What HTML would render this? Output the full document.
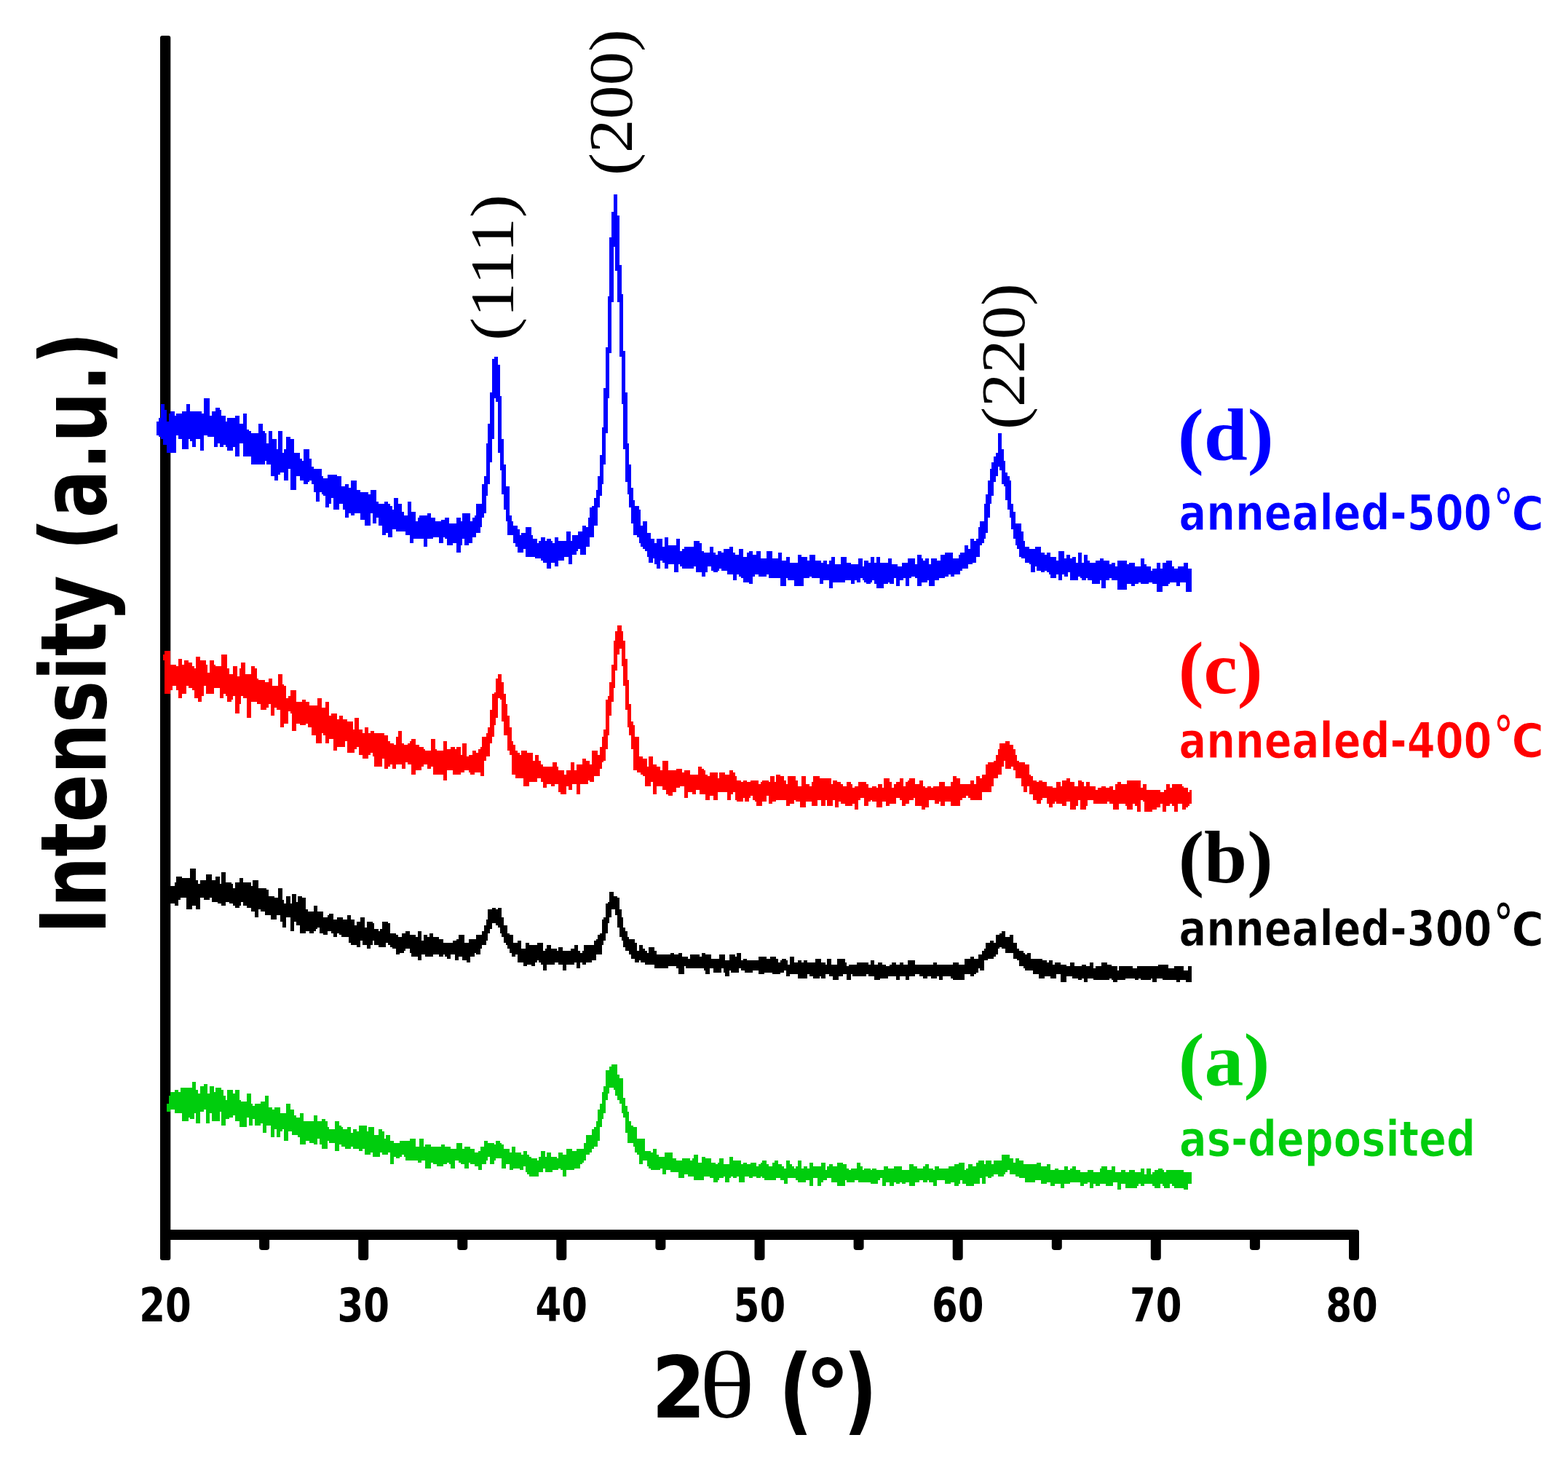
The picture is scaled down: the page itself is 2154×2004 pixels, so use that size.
<!DOCTYPE html>
<html><head><meta charset="utf-8"><title>XRD patterns</title>
<style>
html,body{margin:0;padding:0;background:#fff;width:2154px;height:2004px;overflow:hidden}
svg{display:block}
.tk{font-family:"DejaVu Sans",sans-serif;font-weight:bold;font-size:64px;fill:#000}
.yl{font-family:"DejaVu Sans",sans-serif;font-weight:bold;font-size:124px;fill:#000}
.xl{font-family:"DejaVu Sans",sans-serif;font-weight:bold;font-size:130px;fill:#000}
.xl2{font-family:"DejaVu Sans",sans-serif;font-weight:bold;font-size:118px;fill:#000}
.xth{font-family:"Liberation Serif",serif;font-size:131px;fill:#000}
.hkl{font-family:"Liberation Serif",serif;font-size:85px;fill:#000}
.xdeg{font-family:"DejaVu Sans",sans-serif;font-weight:bold;font-size:129px;fill:#000}
.lab{font-family:"Liberation Serif",serif;font-weight:bold;font-size:101px}
.leg{font-family:"DejaVu Sans",sans-serif;font-weight:bold;font-size:68px;stroke:#fff;stroke-width:1.1px}
</style></head>
<body>
<svg width="2154" height="2004" viewBox="0 0 2154 2004">
<rect width="2154" height="2004" fill="#fff"/>
<g fill="#000"><rect x="220" y="49" width="14.3" height="1682" rx="3"/>
<rect x="220" y="1689" width="1647" height="14" rx="3"/>
<rect x="356.1" y="1692" width="14" height="25.0" rx="4"/>
<rect x="492.2" y="1692" width="14" height="39.0" rx="4"/>
<rect x="628.3" y="1692" width="14" height="25.0" rx="4"/>
<rect x="764.3" y="1692" width="14" height="39.0" rx="4"/>
<rect x="900.4" y="1692" width="14" height="25.0" rx="4"/>
<rect x="1036.5" y="1692" width="14" height="39.0" rx="4"/>
<rect x="1172.6" y="1692" width="14" height="25.0" rx="4"/>
<rect x="1308.7" y="1692" width="14" height="39.0" rx="4"/>
<rect x="1444.8" y="1692" width="14" height="25.0" rx="4"/>
<rect x="1580.8" y="1692" width="14" height="39.0" rx="4"/>
<rect x="1716.9" y="1692" width="14" height="25.0" rx="4"/>
<rect x="1853.0" y="1692" width="14" height="39.0" rx="4"/></g>
<g shape-rendering="crispEdges"><path fill="#00cd0d" d="M228.9 1515.9V1515.9H231.6V1505.1H234.2V1499.7H236.9V1499.7H239.6V1497.0H242.3V1497.0H245.0V1499.7H247.7V1494.3H250.4V1494.3H253.1V1494.3H255.8V1494.3H258.5V1494.3H261.2V1494.3H263.9V1486.3H266.6V1486.3H269.2V1497.0H271.9V1502.4H274.6V1491.6H277.3V1491.6H280.0V1489.0H282.7V1489.0H285.4V1502.4H288.1V1491.6H290.8V1491.6H293.5V1499.7H296.2V1494.3H298.9V1494.3H301.6V1494.3H304.3V1497.0H306.9V1505.1H309.6V1510.5H312.3V1497.0H315.0V1497.0H317.7V1497.0H320.4V1502.4H323.1V1497.0H325.8V1497.0H328.5V1510.5H331.2V1513.2H333.9V1513.2H336.6V1513.2H339.3V1502.4H341.9V1502.4H344.6V1515.9H347.3V1518.6H350.0V1515.9H352.7V1515.9H355.4V1515.9H358.1V1513.2H360.8V1513.2H363.5V1505.1H366.2V1505.1H368.9V1521.3H371.6V1521.3H374.3V1524.0H376.9V1521.3H379.6V1521.3H382.3V1521.3H385.0V1529.3H387.7V1529.3H390.4V1529.3H393.1V1515.9H395.8V1515.9H398.5V1524.0H401.2V1524.0H403.9V1532.0H406.6V1534.7H409.3V1534.7H412.0V1529.3H414.6V1529.3H417.3V1540.1H420.0V1540.1H422.7V1540.1H425.4V1540.1H428.1V1540.1H430.8V1532.0H433.5V1532.0H436.2V1540.1H438.9V1540.1H441.6V1537.4H444.3V1537.4H447.0V1540.1H449.6V1548.2H452.3V1550.9H455.0V1550.9H457.7V1550.9H460.4V1540.1H463.1V1540.1H465.8V1545.5H468.5V1548.2H471.2V1550.9H473.9V1550.9H476.6V1548.2H479.3V1548.2H482.0V1556.3H484.6V1550.9H487.3V1550.9H490.0V1553.6H492.7V1545.5H495.4V1545.5H498.1V1545.5H500.8V1545.5H503.5V1553.6H506.2V1548.2H508.9V1548.2H511.6V1548.2H514.3V1559.0H517.0V1559.0H519.7V1550.9H522.3V1550.9H525.0V1553.6H527.7V1564.3H530.4V1559.0H533.1V1559.0H535.8V1567.0H538.5V1567.0H541.2V1569.7H543.9V1569.7H546.6V1569.7H549.3V1567.0H552.0V1567.0H554.7V1567.0H557.3V1567.0H560.0V1567.0H562.7V1564.3H565.4V1564.3H568.1V1564.3H570.8V1575.1H573.5V1575.1H576.2V1564.3H578.9V1564.3H581.6V1575.1H584.3V1572.4H587.0V1572.4H589.7V1572.4H592.4V1575.1H595.0V1575.1H597.7V1575.1H600.4V1575.1H603.1V1575.1H605.8V1572.4H608.5V1572.4H611.2V1575.1H613.9V1575.1H616.6V1575.1H619.3V1577.8H622.0V1577.8H624.7V1577.8H627.4V1569.7H630.0V1569.7H632.7V1569.7H635.4V1577.8H638.1V1575.1H640.8V1575.1H643.5V1575.1H646.2V1577.8H648.9V1577.8H651.6V1583.2H654.3V1583.2H657.0V1580.5H659.7V1575.1H662.4V1575.1H665.0V1567.0H667.7V1567.0H670.4V1569.7H673.1V1569.7H675.8V1569.7H678.5V1572.4H681.2V1567.0H683.9V1567.0H686.6V1569.7H689.3V1572.4H692.0V1577.8H694.7V1577.8H697.4V1577.8H700.0V1583.2H702.7V1575.1H705.4V1575.1H708.1V1583.2H710.8V1583.2H713.5V1583.2H716.2V1585.9H718.9V1580.5H721.6V1580.5H724.3V1585.9H727.0V1588.6H729.7V1591.3H732.4V1591.3H735.1V1591.3H737.7V1594.0H740.4V1588.6H743.1V1580.5H745.8V1580.5H748.5V1588.6H751.2V1583.2H753.9V1583.2H756.6V1588.6H759.3V1588.6H762.0V1588.6H764.7V1591.3H767.4V1583.2H770.1V1583.2H772.7V1585.9H775.4V1585.9H778.1V1577.8H780.8V1577.8H783.5V1577.8H786.2V1580.5H788.9V1580.5H791.6V1577.8H794.3V1577.8H797.0V1577.8H799.7V1577.8H802.4V1569.7H805.1V1559.0H807.8V1559.0H810.4V1559.0H813.1V1550.9H815.8V1548.2H818.5V1540.1H821.2V1524.0H823.9V1515.9H826.6V1499.7H829.3V1491.6H832.0V1470.1H834.7V1470.1H837.4V1464.7H840.1V1462.0H842.8V1462.0H845.4V1462.0H848.1V1475.5H850.8V1480.9H853.5V1480.9H856.2V1507.8H858.9V1518.6H861.6V1526.6H864.3V1540.1H867.0V1545.5H869.7V1548.2H872.4V1548.2H875.1V1564.3H877.8V1564.3H880.4V1564.3H883.1V1564.3H885.8V1580.5H888.5V1580.5H891.2V1580.5H893.9V1583.2H896.6V1577.8H899.3V1577.8H902.0V1585.9H904.7V1588.6H907.4V1588.6H910.1V1588.6H912.8V1583.2H915.4V1583.2H918.1V1583.2H920.8V1583.2H923.5V1591.3H926.2V1591.3H928.9V1594.0H931.6V1594.0H934.3V1594.0H937.0V1591.3H939.7V1591.3H942.4V1591.3H945.1V1591.3H947.8V1594.0H950.5V1591.3H953.1V1585.9H955.8V1585.9H958.5V1596.7H961.2V1596.7H963.9V1588.6H966.6V1588.6H969.3V1591.3H972.0V1591.3H974.7V1591.3H977.4V1596.7H980.1V1596.7H982.8V1599.3H985.5V1596.7H988.1V1591.3H990.8V1591.3H993.5V1599.3H996.2V1599.3H998.9V1599.3H1001.6V1588.6H1004.3V1588.6H1007.0V1594.0H1009.7V1594.0H1012.4V1594.0H1015.1V1594.0H1017.8V1599.3H1020.5V1596.7H1023.1V1596.7H1025.8V1599.3H1028.5V1599.3H1031.2V1596.7H1033.9V1596.7H1036.6V1596.7H1039.3V1602.0H1042.0V1599.3H1044.7V1596.7H1047.4V1594.0H1050.1V1594.0H1052.8V1599.3H1055.5V1602.0H1058.2V1602.0H1060.8V1596.7H1063.5V1594.0H1066.2V1594.0H1068.9V1599.3H1071.6V1599.3H1074.3V1602.0H1077.0V1604.7H1079.7V1594.0H1082.4V1594.0H1085.1V1599.3H1087.8V1602.0H1090.5V1604.7H1093.2V1602.0H1095.8V1594.0H1098.5V1594.0H1101.2V1604.7H1103.9V1602.0H1106.6V1602.0H1109.3V1604.7H1112.0V1596.7H1114.7V1596.7H1117.4V1602.0H1120.1V1602.0H1122.8V1602.0H1125.5V1602.0H1128.2V1596.7H1130.8V1596.7H1133.5V1607.4H1136.2V1602.0H1138.9V1599.3H1141.6V1599.3H1144.3V1602.0H1147.0V1602.0H1149.7V1596.7H1152.4V1596.7H1155.1V1596.7H1157.8V1599.3H1160.5V1599.3H1163.2V1604.7H1165.9V1607.4H1168.5V1604.7H1171.2V1604.7H1173.9V1604.7H1176.6V1596.7H1179.3V1596.7H1182.0V1602.0H1184.7V1607.4H1187.4V1604.7H1190.1V1604.7H1192.8V1604.7H1195.5V1607.4H1198.2V1604.7H1200.9V1604.7H1203.5V1607.4H1206.2V1607.4H1208.9V1607.4H1211.6V1607.4H1214.3V1602.0H1217.0V1602.0H1219.7V1604.7H1222.4V1604.7H1225.1V1604.7H1227.8V1602.0H1230.5V1602.0H1233.2V1602.0H1235.9V1602.0H1238.5V1607.4H1241.2V1607.4H1243.9V1607.4H1246.6V1607.4H1249.3V1599.3H1252.0V1599.3H1254.7V1602.0H1257.4V1602.0H1260.1V1604.7H1262.8V1604.7H1265.5V1604.7H1268.2V1602.0H1270.9V1599.3H1273.6V1599.3H1276.2V1604.7H1278.9V1604.7H1281.6V1607.4H1284.3V1602.0H1287.0V1602.0H1289.7V1604.7H1292.4V1604.7H1295.1V1604.7H1297.8V1604.7H1300.5V1604.7H1303.2V1602.0H1305.9V1602.0H1308.6V1602.0H1311.2V1599.3H1313.9V1599.3H1316.6V1596.7H1319.3V1596.7H1322.0V1596.7H1324.7V1607.4H1327.4V1604.7H1330.1V1599.3H1332.8V1599.3H1335.5V1602.0H1338.2V1602.0H1340.9V1596.7H1343.6V1594.0H1346.2V1594.0H1348.9V1594.0H1351.6V1599.3H1354.3V1594.0H1357.0V1594.0H1359.7V1594.0H1362.4V1599.3H1365.1V1594.0H1367.8V1594.0H1370.5V1594.0H1373.2V1594.0H1375.9V1585.9H1378.6V1585.9H1381.3V1585.9H1383.9V1585.9H1386.6V1591.3H1389.3V1591.3H1392.0V1596.7H1394.7V1591.3H1397.4V1591.3H1400.1V1594.0H1402.8V1594.0H1405.5V1599.3H1408.2V1599.3H1410.9V1599.3H1413.6V1599.3H1416.3V1599.3H1418.9V1599.3H1421.6V1599.3H1424.3V1596.7H1427.0V1596.7H1429.7V1602.0H1432.4V1602.0H1435.1V1602.0H1437.8V1599.3H1440.5V1599.3H1443.2V1607.4H1445.9V1607.4H1448.6V1604.7H1451.3V1604.7H1454.0V1607.4H1456.6V1607.4H1459.3V1607.4H1462.0V1602.0H1464.7V1602.0H1467.4V1607.4H1470.1V1604.7H1472.8V1602.0H1475.5V1602.0H1478.2V1607.4H1480.9V1607.4H1483.6V1610.1H1486.3V1610.1H1489.0V1610.1H1491.6V1610.1H1494.3V1607.4H1497.0V1607.4H1499.7V1607.4H1502.4V1610.1H1505.1V1610.1H1507.8V1610.1H1510.5V1604.7H1513.2V1602.0H1515.9V1602.0H1518.6V1602.0H1521.3V1607.4H1524.0V1607.4H1526.6V1602.0H1529.3V1602.0H1532.0V1610.1H1534.7V1610.1H1537.4V1610.1H1540.1V1607.4H1542.8V1607.4H1545.5V1610.1H1548.2V1610.1H1550.9V1607.4H1553.6V1607.4H1556.3V1607.4H1559.0V1610.1H1561.6V1610.1H1564.3V1610.1H1567.0V1604.7H1569.7V1604.7H1572.4V1612.8H1575.1V1604.7H1577.8V1604.7H1580.5V1612.8H1583.2V1610.1H1585.9V1607.4H1588.6V1607.4H1591.3V1604.7H1594.0V1604.7H1596.7V1607.4H1599.3V1610.1H1602.0V1607.4H1604.7V1607.4H1607.4V1607.4H1610.1V1607.4H1612.8V1607.4H1615.5V1607.4H1618.2V1607.4H1620.9V1607.4H1623.6V1607.4H1626.3V1610.1H1629.0V1610.1H1631.7V1610.1H1634.3V1610.1H1637.0V1626.3H1634.3V1626.3H1631.7V1634.3H1629.0V1634.3H1626.3V1631.7H1623.6V1631.7H1620.9V1631.7H1618.2V1631.7H1615.5V1631.7H1612.8V1629.0H1610.1V1626.3H1607.4V1631.7H1604.7V1631.7H1602.0V1631.7H1599.3V1629.0H1596.7V1626.3H1594.0V1631.7H1591.3V1631.7H1588.6V1631.7H1585.9V1629.0H1583.2V1626.3H1580.5V1626.3H1577.8V1626.3H1575.1V1626.3H1572.4V1629.0H1569.7V1629.0H1567.0V1626.3H1564.3V1629.0H1561.6V1631.7H1559.0V1631.7H1556.3V1631.7H1553.6V1631.7H1550.9V1631.7H1548.2V1631.7H1545.5V1626.3H1542.8V1626.3H1540.1V1634.3H1537.4V1634.3H1534.7V1623.6H1532.0V1623.6H1529.3V1629.0H1526.6V1629.0H1524.0V1629.0H1521.3V1629.0H1518.6V1626.3H1515.9V1626.3H1513.2V1626.3H1510.5V1629.0H1507.8V1629.0H1505.1V1626.3H1502.4V1631.7H1499.7V1631.7H1497.0V1623.6H1494.3V1626.3H1491.6V1626.3H1489.0V1629.0H1486.3V1629.0H1483.6V1623.6H1480.9V1623.6H1478.2V1623.6H1475.5V1623.6H1472.8V1623.6H1470.1V1626.3H1467.4V1626.3H1464.7V1626.3H1462.0V1631.7H1459.3V1631.7H1456.6V1626.3H1454.0V1626.3H1451.3V1626.3H1448.6V1629.0H1445.9V1629.0H1443.2V1623.6H1440.5V1623.6H1437.8V1626.3H1435.1V1626.3H1432.4V1626.3H1429.7V1620.9H1427.0V1620.9H1424.3V1620.9H1421.6V1623.6H1418.9V1623.6H1416.3V1623.6H1413.6V1623.6H1410.9V1623.6H1408.2V1618.2H1405.5V1618.2H1402.8V1618.2H1400.1V1615.5H1397.4V1615.5H1394.7V1612.8H1392.0V1612.8H1389.3V1612.8H1386.6V1607.4H1383.9V1610.1H1381.3V1612.8H1378.6V1615.5H1375.9V1615.5H1373.2V1615.5H1370.5V1612.8H1367.8V1612.8H1365.1V1615.5H1362.4V1618.2H1359.7V1618.2H1357.0V1615.5H1354.3V1626.3H1351.6V1626.3H1348.9V1618.2H1346.2V1626.3H1343.6V1626.3H1340.9V1626.3H1338.2V1629.0H1335.5V1629.0H1332.8V1629.0H1330.1V1629.0H1327.4V1626.3H1324.7V1626.3H1322.0V1620.9H1319.3V1626.3H1316.6V1629.0H1313.9V1629.0H1311.2V1623.6H1308.6V1623.6H1305.9V1626.3H1303.2V1626.3H1300.5V1626.3H1297.8V1620.9H1295.1V1620.9H1292.4V1620.9H1289.7V1620.9H1287.0V1629.0H1284.3V1629.0H1281.6V1623.6H1278.9V1623.6H1276.2V1620.9H1273.6V1623.6H1270.9V1623.6H1268.2V1620.9H1265.5V1620.9H1262.8V1623.6H1260.1V1623.6H1257.4V1629.0H1254.7V1629.0H1252.0V1629.0H1249.3V1623.6H1246.6V1623.6H1243.9V1626.3H1241.2V1626.3H1238.5V1623.6H1235.9V1626.3H1233.2V1626.3H1230.5V1623.6H1227.8V1629.0H1225.1V1629.0H1222.4V1623.6H1219.7V1623.6H1217.0V1629.0H1214.3V1629.0H1211.6V1618.2H1208.9V1620.9H1206.2V1626.3H1203.5V1626.3H1200.9V1626.3H1198.2V1626.3H1195.5V1623.6H1192.8V1623.6H1190.1V1623.6H1187.4V1623.6H1184.7V1623.6H1182.0V1623.6H1179.3V1620.9H1176.6V1620.9H1173.9V1623.6H1171.2V1623.6H1168.5V1623.6H1165.9V1623.6H1163.2V1620.9H1160.5V1629.0H1157.8V1629.0H1155.1V1629.0H1152.4V1629.0H1149.7V1623.6H1147.0V1623.6H1144.3V1623.6H1141.6V1618.2H1138.9V1618.2H1136.2V1620.9H1133.5V1620.9H1130.8V1623.6H1128.2V1629.0H1125.5V1629.0H1122.8V1618.2H1120.1V1618.2H1117.4V1629.0H1114.7V1629.0H1112.0V1620.9H1109.3V1620.9H1106.6V1623.6H1103.9V1623.6H1101.2V1623.6H1098.5V1623.6H1095.8V1620.9H1093.2V1618.2H1090.5V1618.2H1087.8V1618.2H1085.1V1618.2H1082.4V1626.3H1079.7V1626.3H1077.0V1620.9H1074.3V1620.9H1071.6V1618.2H1068.9V1618.2H1066.2V1620.9H1063.5V1620.9H1060.8V1620.9H1058.2V1620.9H1055.5V1620.9H1052.8V1620.9H1050.1V1618.2H1047.4V1615.5H1044.7V1618.2H1042.0V1618.2H1039.3V1615.5H1036.6V1615.5H1033.9V1618.2H1031.2V1618.2H1028.5V1615.5H1025.8V1615.5H1023.1V1623.6H1020.5V1623.6H1017.8V1623.6H1015.1V1615.5H1012.4V1618.2H1009.7V1618.2H1007.0V1615.5H1004.3V1618.2H1001.6V1623.6H998.9V1623.6H996.2V1615.5H993.5V1618.2H990.8V1618.2H988.1V1620.9H985.5V1623.6H982.8V1623.6H980.1V1618.2H977.4V1618.2H974.7V1615.5H972.0V1615.5H969.3V1615.5H966.6V1620.9H963.9V1620.9H961.2V1620.9H958.5V1620.9H955.8V1620.9H953.1V1615.5H950.5V1615.5H947.8V1615.5H945.1V1612.8H942.4V1612.8H939.7V1618.2H937.0V1618.2H934.3V1618.2H931.6V1610.1H928.9V1610.1H926.2V1610.1H923.5V1610.1H920.8V1607.4H918.1V1607.4H915.4V1612.8H912.8V1612.8H910.1V1604.7H907.4V1607.4H904.7V1607.4H902.0V1607.4H899.3V1607.4H896.6V1607.4H893.9V1604.7H891.2V1602.0H888.5V1594.0H885.8V1594.0H883.1V1599.3H880.4V1599.3H877.8V1585.9H875.1V1583.2H872.4V1575.1H869.7V1569.7H867.0V1569.7H864.3V1569.7H861.6V1556.3H858.9V1534.7H856.2V1529.3H853.5V1515.9H850.8V1510.5H848.1V1505.1H845.4V1497.0H842.8V1494.3H840.1V1494.3H837.4V1502.4H834.7V1510.5H832.0V1529.3H829.3V1537.4H826.6V1548.2H823.9V1567.0H821.2V1575.1H818.5V1575.1H815.8V1577.8H813.1V1583.2H810.4V1585.9H807.8V1585.9H805.1V1594.0H802.4V1596.7H799.7V1599.3H797.0V1604.7H794.3V1604.7H791.6V1604.7H788.9V1607.4H786.2V1607.4H783.5V1607.4H780.8V1607.4H778.1V1615.5H775.4V1615.5H772.7V1607.4H770.1V1604.7H767.4V1607.4H764.7V1607.4H762.0V1607.4H759.3V1610.1H756.6V1610.1H753.9V1610.1H751.2V1610.1H748.5V1604.7H745.8V1610.1H743.1V1610.1H740.4V1615.5H737.7V1615.5H735.1V1615.5H732.4V1615.5H729.7V1615.5H727.0V1612.8H724.3V1610.1H721.6V1602.0H718.9V1607.4H716.2V1607.4H713.5V1604.7H710.8V1604.7H708.1V1604.7H705.4V1607.4H702.7V1607.4H700.0V1599.3H697.4V1599.3H694.7V1604.7H692.0V1604.7H689.3V1591.3H686.6V1591.3H683.9V1591.3H681.2V1594.0H678.5V1599.3H675.8V1599.3H673.1V1588.6H670.4V1594.0H667.7V1599.3H665.0V1599.3H662.4V1607.4H659.7V1607.4H657.0V1602.0H654.3V1602.0H651.6V1599.3H648.9V1599.3H646.2V1596.7H643.5V1604.7H640.8V1604.7H638.1V1599.3H635.4V1599.3H632.7V1596.7H630.0V1594.0H627.4V1594.0H624.7V1604.7H622.0V1604.7H619.3V1599.3H616.6V1596.7H613.9V1599.3H611.2V1599.3H608.5V1602.0H605.8V1602.0H603.1V1602.0H600.4V1599.3H597.7V1599.3H595.0V1596.7H592.4V1604.7H589.7V1604.7H587.0V1604.7H584.3V1594.0H581.6V1594.0H578.9V1596.7H576.2V1596.7H573.5V1594.0H570.8V1594.0H568.1V1594.0H565.4V1594.0H562.7V1594.0H560.0V1594.0H557.3V1588.6H554.7V1585.9H552.0V1588.6H549.3V1591.3H546.6V1591.3H543.9V1588.6H541.2V1599.3H538.5V1599.3H535.8V1583.2H533.1V1585.9H530.4V1585.9H527.7V1585.9H525.0V1583.2H522.3V1588.6H519.7V1588.6H517.0V1588.6H514.3V1588.6H511.6V1583.2H508.9V1585.9H506.2V1585.9H503.5V1585.9H500.8V1577.8H498.1V1580.5H495.4V1580.5H492.7V1577.8H490.0V1577.8H487.3V1577.8H484.6V1575.1H482.0V1577.8H479.3V1577.8H476.6V1577.8H473.9V1575.1H471.2V1575.1H468.5V1572.4H465.8V1580.5H463.1V1580.5H460.4V1569.7H457.7V1569.7H455.0V1569.7H452.3V1567.0H449.6V1577.8H447.0V1577.8H444.3V1577.8H441.6V1572.4H438.9V1564.3H436.2V1572.4H433.5V1572.4H430.8V1569.7H428.1V1569.7H425.4V1567.0H422.7V1567.0H420.0V1572.4H417.3V1572.4H414.6V1572.4H412.0V1561.6H409.3V1559.0H406.6V1559.0H403.9V1559.0H401.2V1553.6H398.5V1553.6H395.8V1567.0H393.1V1567.0H390.4V1550.9H387.7V1553.6H385.0V1561.6H382.3V1561.6H379.6V1550.9H376.9V1561.6H374.3V1561.6H371.6V1545.5H368.9V1545.5H366.2V1556.3H363.5V1556.3H360.8V1542.8H358.1V1545.5H355.4V1545.5H352.7V1545.5H350.0V1537.4H347.3V1545.5H344.6V1545.5H341.9V1534.7H339.3V1548.2H336.6V1548.2H333.9V1548.2H331.2V1548.2H328.5V1540.1H325.8V1540.1H323.1V1532.0H320.4V1534.7H317.7V1534.7H315.0V1537.4H312.3V1537.4H309.6V1545.5H306.9V1545.5H304.3V1526.6H301.6V1540.1H298.9V1540.1H296.2V1540.1H293.5V1540.1H290.8V1529.3H288.1V1542.8H285.4V1542.8H282.7V1524.0H280.0V1526.6H277.3V1526.6H274.6V1542.8H271.9V1542.8H269.2V1529.3H266.6V1537.4H263.9V1537.4H261.2V1534.7H258.5V1540.1H255.8V1540.1H253.1V1540.1H250.4V1529.3H247.7V1529.3H245.0V1529.3H242.3V1529.3H239.6V1524.0H236.9V1524.0H234.2V1526.6H231.6V1526.6H228.9Z"/>
<path fill="#000000" d="M231.6 1219.7V1219.7H234.2V1217.0H236.9V1217.0H239.6V1211.6H242.3V1203.5H245.0V1203.5H247.7V1203.5H250.4V1206.2H253.1V1206.2H255.8V1206.2H258.5V1206.2H261.2V1192.8H263.9V1192.8H266.6V1192.8H269.2V1208.9H271.9V1214.3H274.6V1208.9H277.3V1208.9H280.0V1208.9H282.7V1200.9H285.4V1200.9H288.1V1200.9H290.8V1208.9H293.5V1208.9H296.2V1203.5H298.9V1203.5H301.6V1214.3H304.3V1198.2H306.9V1198.2H309.6V1211.6H312.3V1211.6H315.0V1211.6H317.7V1214.3H320.4V1219.7H323.1V1211.6H325.8V1211.6H328.5V1206.2H331.2V1206.2H333.9V1211.6H336.6V1211.6H339.3V1211.6H341.9V1211.6H344.6V1217.0H347.3V1208.9H350.0V1208.9H352.7V1208.9H355.4V1219.7H358.1V1219.7H360.8V1219.7H363.5V1219.7H366.2V1222.4H368.9V1230.5H371.6V1230.5H374.3V1230.5H376.9V1233.2H379.6V1233.2H382.3V1219.7H385.0V1219.7H387.7V1235.9H390.4V1241.2H393.1V1230.5H395.8V1230.5H398.5V1241.2H401.2V1227.8H403.9V1227.8H406.6V1238.5H409.3V1230.5H412.0V1230.5H414.6V1233.2H417.3V1233.2H420.0V1249.3H422.7V1252.0H425.4V1252.0H428.1V1252.0H430.8V1243.9H433.5V1243.9H436.2V1252.0H438.9V1252.0H441.6V1252.0H444.3V1260.1H447.0V1260.1H449.6V1257.4H452.3V1254.7H455.0V1254.7H457.7V1262.8H460.4V1262.8H463.1V1260.1H465.8V1260.1H468.5V1260.1H471.2V1262.8H473.9V1262.8H476.6V1257.4H479.3V1257.4H482.0V1262.8H484.6V1262.8H487.3V1270.9H490.0V1265.5H492.7V1265.5H495.4V1260.1H498.1V1260.1H500.8V1273.6H503.5V1265.5H506.2V1265.5H508.9V1265.5H511.6V1268.2H514.3V1276.2H517.0V1276.2H519.7V1278.9H522.3V1276.2H525.0V1265.5H527.7V1265.5H530.4V1265.5H533.1V1268.2H535.8V1281.6H538.5V1281.6H541.2V1281.6H543.9V1284.3H546.6V1287.0H549.3V1287.0H552.0V1281.6H554.7V1281.6H557.3V1278.9H560.0V1278.9H562.7V1284.3H565.4V1284.3H568.1V1284.3H570.8V1287.0H573.5V1278.9H576.2V1278.9H578.9V1292.4H581.6V1284.3H584.3V1284.3H587.0V1287.0H589.7V1281.6H592.4V1281.6H595.0V1287.0H597.7V1287.0H600.4V1287.0H603.1V1289.7H605.8V1289.7H608.5V1295.1H611.2V1295.1H613.9V1295.1H616.6V1295.1H619.3V1295.1H622.0V1292.4H624.7V1292.4H627.4V1289.7H630.0V1284.3H632.7V1284.3H635.4V1284.3H638.1V1295.1H640.8V1295.1H643.5V1289.7H646.2V1289.7H648.9V1289.7H651.6V1289.7H654.3V1284.3H657.0V1284.3H659.7V1284.3H662.4V1278.9H665.0V1270.9H667.7V1262.8H670.4V1249.3H673.1V1249.3H675.8V1246.6H678.5V1246.6H681.2V1249.3H683.9V1246.6H686.6V1246.6H689.3V1260.1H692.0V1270.9H694.7V1270.9H697.4V1281.6H700.0V1284.3H702.7V1284.3H705.4V1295.1H708.1V1295.1H710.8V1292.4H713.5V1292.4H716.2V1303.2H718.9V1303.2H721.6V1295.1H724.3V1295.1H727.0V1297.8H729.7V1297.8H732.4V1297.8H735.1V1297.8H737.7V1295.1H740.4V1295.1H743.1V1295.1H745.8V1305.9H748.5V1303.2H751.2V1297.8H753.9V1297.8H756.6V1303.2H759.3V1303.2H762.0V1303.2H764.7V1305.9H767.4V1300.5H770.1V1300.5H772.7V1305.9H775.4V1305.9H778.1V1305.9H780.8V1305.9H783.5V1303.2H786.2V1303.2H788.9V1297.8H791.6V1297.8H794.3V1305.9H797.0V1308.6H799.7V1305.9H802.4V1297.8H805.1V1297.8H807.8V1297.8H810.4V1297.8H813.1V1297.8H815.8V1292.4H818.5V1289.7H821.2V1284.3H823.9V1281.6H826.6V1262.8H829.3V1260.1H832.0V1241.2H834.7V1238.5H837.4V1225.1H840.1V1225.1H842.8V1230.5H845.4V1230.5H848.1V1233.2H850.8V1249.3H853.5V1260.1H856.2V1273.6H858.9V1278.9H861.6V1287.0H864.3V1289.7H867.0V1289.7H869.7V1289.7H872.4V1295.1H875.1V1305.9H877.8V1297.8H880.4V1297.8H883.1V1303.2H885.8V1305.9H888.5V1308.6H891.2V1300.5H893.9V1300.5H896.6V1300.5H899.3V1305.9H902.0V1311.2H904.7V1311.2H907.4V1311.2H910.1V1311.2H912.8V1311.2H915.4V1311.2H918.1V1311.2H920.8V1308.6H923.5V1308.6H926.2V1311.2H928.9V1311.2H931.6V1308.6H934.3V1308.6H937.0V1313.9H939.7V1313.9H942.4V1313.9H945.1V1316.6H947.8V1311.2H950.5V1311.2H953.1V1311.2H955.8V1311.2H958.5V1311.2H961.2V1313.9H963.9V1308.6H966.6V1308.6H969.3V1311.2H972.0V1311.2H974.7V1311.2H977.4V1316.6H980.1V1316.6H982.8V1316.6H985.5V1316.6H988.1V1311.2H990.8V1311.2H993.5V1311.2H996.2V1319.3H998.9V1319.3H1001.6V1311.2H1004.3V1311.2H1007.0V1311.2H1009.7V1313.9H1012.4V1308.6H1015.1V1308.6H1017.8V1319.3H1020.5V1316.6H1023.1V1316.6H1025.8V1319.3H1028.5V1319.3H1031.2V1319.3H1033.9V1319.3H1036.6V1319.3H1039.3V1319.3H1042.0V1313.9H1044.7V1313.9H1047.4V1313.9H1050.1V1313.9H1052.8V1316.6H1055.5V1316.6H1058.2V1313.9H1060.8V1313.9H1063.5V1313.9H1066.2V1316.6H1068.9V1322.0H1071.6V1319.3H1074.3V1316.6H1077.0V1316.6H1079.7V1319.3H1082.4V1324.7H1085.1V1313.9H1087.8V1313.9H1090.5V1322.0H1093.2V1322.0H1095.8V1319.3H1098.5V1319.3H1101.2V1322.0H1103.9V1319.3H1106.6V1319.3H1109.3V1322.0H1112.0V1322.0H1114.7V1322.0H1117.4V1322.0H1120.1V1316.6H1122.8V1316.6H1125.5V1316.6H1128.2V1322.0H1130.8V1322.0H1133.5V1324.7H1136.2V1316.6H1138.9V1316.6H1141.6V1324.7H1144.3V1324.7H1147.0V1324.7H1149.7V1316.6H1152.4V1316.6H1155.1V1316.6H1157.8V1316.6H1160.5V1322.0H1163.2V1327.4H1165.9V1324.7H1168.5V1324.7H1171.2V1324.7H1173.9V1324.7H1176.6V1322.0H1179.3V1322.0H1182.0V1322.0H1184.7V1322.0H1187.4V1322.0H1190.1V1322.0H1192.8V1324.7H1195.5V1319.3H1198.2V1319.3H1200.9V1324.7H1203.5V1324.7H1206.2V1322.0H1208.9V1322.0H1211.6V1324.7H1214.3V1324.7H1217.0V1327.4H1219.7V1327.4H1222.4V1324.7H1225.1V1322.0H1227.8V1322.0H1230.5V1324.7H1233.2V1324.7H1235.9V1322.0H1238.5V1322.0H1241.2V1324.7H1243.9V1324.7H1246.6V1319.3H1249.3V1319.3H1252.0V1319.3H1254.7V1319.3H1257.4V1324.7H1260.1V1324.7H1262.8V1324.7H1265.5V1324.7H1268.2V1324.7H1270.9V1324.7H1273.6V1324.7H1276.2V1324.7H1278.9V1324.7H1281.6V1322.0H1284.3V1322.0H1287.0V1324.7H1289.7V1324.7H1292.4V1324.7H1295.1V1324.7H1297.8V1324.7H1300.5V1324.7H1303.2V1324.7H1305.9V1324.7H1308.6V1322.0H1311.2V1322.0H1313.9V1322.0H1316.6V1324.7H1319.3V1324.7H1322.0V1324.7H1324.7V1316.6H1327.4V1316.6H1330.1V1316.6H1332.8V1313.9H1335.5V1313.9H1338.2V1316.6H1340.9V1316.6H1343.6V1311.2H1346.2V1311.2H1348.9V1305.9H1351.6V1303.2H1354.3V1295.1H1357.0V1295.1H1359.7V1292.4H1362.4V1292.4H1365.1V1295.1H1367.8V1284.3H1370.5V1284.3H1373.2V1281.6H1375.9V1278.9H1378.6V1278.9H1381.3V1287.0H1383.9V1287.0H1386.6V1284.3H1389.3V1284.3H1392.0V1295.1H1394.7V1295.1H1397.4V1303.2H1400.1V1305.9H1402.8V1305.9H1405.5V1308.6H1408.2V1311.2H1410.9V1308.6H1413.6V1308.6H1416.3V1316.6H1418.9V1316.6H1421.6V1316.6H1424.3V1316.6H1427.0V1316.6H1429.7V1316.6H1432.4V1319.3H1435.1V1319.3H1437.8V1322.0H1440.5V1319.3H1443.2V1319.3H1445.9V1324.7H1448.6V1322.0H1451.3V1322.0H1454.0V1322.0H1456.6V1324.7H1459.3V1324.7H1462.0V1324.7H1464.7V1327.4H1467.4V1327.4H1470.1V1322.0H1472.8V1322.0H1475.5V1327.4H1478.2V1327.4H1480.9V1327.4H1483.6V1327.4H1486.3V1324.7H1489.0V1324.7H1491.6V1327.4H1494.3V1327.4H1497.0V1322.0H1499.7V1322.0H1502.4V1330.1H1505.1V1327.4H1507.8V1327.4H1510.5V1327.4H1513.2V1322.0H1515.9V1322.0H1518.6V1322.0H1521.3V1324.7H1524.0V1324.7H1526.6V1327.4H1529.3V1327.4H1532.0V1327.4H1534.7V1332.8H1537.4V1327.4H1540.1V1327.4H1542.8V1327.4H1545.5V1327.4H1548.2V1327.4H1550.9V1327.4H1553.6V1327.4H1556.3V1330.1H1559.0V1330.1H1561.6V1327.4H1564.3V1327.4H1567.0V1327.4H1569.7V1327.4H1572.4V1327.4H1575.1V1327.4H1577.8V1327.4H1580.5V1327.4H1583.2V1327.4H1585.9V1327.4H1588.6V1327.4H1591.3V1324.7H1594.0V1324.7H1596.7V1324.7H1599.3V1324.7H1602.0V1324.7H1604.7V1330.1H1607.4V1330.1H1610.1V1330.1H1612.8V1327.4H1615.5V1327.4H1618.2V1327.4H1620.9V1327.4H1623.6V1327.4H1626.3V1332.8H1629.0V1332.8H1631.7V1327.4H1634.3V1327.4H1637.0V1348.9H1634.3V1348.9H1631.7V1348.9H1629.0V1346.2H1626.3V1346.2H1623.6V1346.2H1620.9V1348.9H1618.2V1348.9H1615.5V1346.2H1612.8V1346.2H1610.1V1346.2H1607.4V1346.2H1604.7V1346.2H1602.0V1346.2H1599.3V1346.2H1596.7V1343.6H1594.0V1343.6H1591.3V1343.6H1588.6V1348.9H1585.9V1348.9H1583.2V1343.6H1580.5V1346.2H1577.8V1346.2H1575.1V1346.2H1572.4V1346.2H1569.7V1346.2H1567.0V1343.6H1564.3V1346.2H1561.6V1346.2H1559.0V1343.6H1556.3V1343.6H1553.6V1343.6H1550.9V1343.6H1548.2V1343.6H1545.5V1346.2H1542.8V1346.2H1540.1V1346.2H1537.4V1346.2H1534.7V1348.9H1532.0V1348.9H1529.3V1346.2H1526.6V1343.6H1524.0V1346.2H1521.3V1346.2H1518.6V1346.2H1515.9V1346.2H1513.2V1346.2H1510.5V1346.2H1507.8V1346.2H1505.1V1346.2H1502.4V1343.6H1499.7V1343.6H1497.0V1343.6H1494.3V1348.9H1491.6V1348.9H1489.0V1343.6H1486.3V1346.2H1483.6V1346.2H1480.9V1343.6H1478.2V1343.6H1475.5V1343.6H1472.8V1340.9H1470.1V1340.9H1467.4V1340.9H1464.7V1348.9H1462.0V1348.9H1459.3V1348.9H1456.6V1338.2H1454.0V1338.2H1451.3V1343.6H1448.6V1343.6H1445.9V1343.6H1443.2V1340.9H1440.5V1340.9H1437.8V1340.9H1435.1V1343.6H1432.4V1343.6H1429.7V1343.6H1427.0V1338.2H1424.3V1338.2H1421.6V1338.2H1418.9V1332.8H1416.3V1332.8H1413.6V1332.8H1410.9V1332.8H1408.2V1330.1H1405.5V1327.4H1402.8V1327.4H1400.1V1319.3H1397.4V1316.6H1394.7V1316.6H1392.0V1308.6H1389.3V1308.6H1386.6V1308.6H1383.9V1308.6H1381.3V1303.2H1378.6V1303.2H1375.9V1300.5H1373.2V1303.2H1370.5V1311.2H1367.8V1313.9H1365.1V1316.6H1362.4V1316.6H1359.7V1316.6H1357.0V1319.3H1354.3V1319.3H1351.6V1332.8H1348.9V1332.8H1346.2V1330.1H1343.6V1335.5H1340.9V1338.2H1338.2V1340.9H1335.5V1340.9H1332.8V1338.2H1330.1V1338.2H1327.4V1338.2H1324.7V1346.2H1322.0V1346.2H1319.3V1346.2H1316.6V1346.2H1313.9V1346.2H1311.2V1346.2H1308.6V1343.6H1305.9V1340.9H1303.2V1340.9H1300.5V1340.9H1297.8V1340.9H1295.1V1346.2H1292.4V1346.2H1289.7V1340.9H1287.0V1343.6H1284.3V1343.6H1281.6V1343.6H1278.9V1340.9H1276.2V1340.9H1273.6V1343.6H1270.9V1343.6H1268.2V1340.9H1265.5V1340.9H1262.8V1338.2H1260.1V1338.2H1257.4V1340.9H1254.7V1340.9H1252.0V1340.9H1249.3V1346.2H1246.6V1346.2H1243.9V1340.9H1241.2V1340.9H1238.5V1340.9H1235.9V1346.2H1233.2V1346.2H1230.5V1340.9H1227.8V1340.9H1225.1V1340.9H1222.4V1340.9H1219.7V1343.6H1217.0V1343.6H1214.3V1343.6H1211.6V1343.6H1208.9V1346.2H1206.2V1346.2H1203.5V1346.2H1200.9V1340.9H1198.2V1340.9H1195.5V1340.9H1192.8V1338.2H1190.1V1340.9H1187.4V1340.9H1184.7V1340.9H1182.0V1340.9H1179.3V1340.9H1176.6V1340.9H1173.9V1340.9H1171.2V1338.2H1168.5V1346.2H1165.9V1346.2H1163.2V1338.2H1160.5V1338.2H1157.8V1340.9H1155.1V1340.9H1152.4V1346.2H1149.7V1346.2H1147.0V1346.2H1144.3V1340.9H1141.6V1340.9H1138.9V1338.2H1136.2V1338.2H1133.5V1343.6H1130.8V1343.6H1128.2V1340.9H1125.5V1343.6H1122.8V1343.6H1120.1V1343.6H1117.4V1340.9H1114.7V1340.9H1112.0V1338.2H1109.3V1343.6H1106.6V1343.6H1103.9V1343.6H1101.2V1343.6H1098.5V1343.6H1095.8V1338.2H1093.2V1338.2H1090.5V1338.2H1087.8V1338.2H1085.1V1340.9H1082.4V1340.9H1079.7V1332.8H1077.0V1335.5H1074.3V1335.5H1071.6V1338.2H1068.9V1338.2H1066.2V1338.2H1063.5V1338.2H1060.8V1335.5H1058.2V1335.5H1055.5V1335.5H1052.8V1335.5H1050.1V1338.2H1047.4V1338.2H1044.7V1338.2H1042.0V1332.8H1039.3V1332.8H1036.6V1332.8H1033.9V1335.5H1031.2V1335.5H1028.5V1335.5H1025.8V1335.5H1023.1V1332.8H1020.5V1332.8H1017.8V1330.1H1015.1V1335.5H1012.4V1335.5H1009.7V1335.5H1007.0V1335.5H1004.3V1332.8H1001.6V1340.9H998.9V1340.9H996.2V1335.5H993.5V1330.1H990.8V1335.5H988.1V1335.5H985.5V1335.5H982.8V1335.5H980.1V1330.1H977.4V1330.1H974.7V1338.2H972.0V1338.2H969.3V1332.8H966.6V1330.1H963.9V1330.1H961.2V1330.1H958.5V1330.1H955.8V1330.1H953.1V1330.1H950.5V1330.1H947.8V1330.1H945.1V1330.1H942.4V1327.4H939.7V1338.2H937.0V1338.2H934.3V1338.2H931.6V1330.1H928.9V1327.4H926.2V1327.4H923.5V1327.4H920.8V1327.4H918.1V1330.1H915.4V1330.1H912.8V1330.1H910.1V1330.1H907.4V1330.1H904.7V1330.1H902.0V1330.1H899.3V1324.7H896.6V1324.7H893.9V1324.7H891.2V1324.7H888.5V1324.7H885.8V1322.0H883.1V1322.0H880.4V1319.3H877.8V1322.0H875.1V1322.0H872.4V1316.6H869.7V1316.6H867.0V1311.2H864.3V1305.9H861.6V1305.9H858.9V1300.5H856.2V1292.4H853.5V1287.0H850.8V1273.6H848.1V1257.4H845.4V1249.3H842.8V1249.3H840.1V1260.1H837.4V1268.2H834.7V1281.6H832.0V1292.4H829.3V1297.8H826.6V1311.2H823.9V1311.2H821.2V1311.2H818.5V1319.3H815.8V1319.3H813.1V1322.0H810.4V1322.0H807.8V1322.0H805.1V1324.7H802.4V1324.7H799.7V1322.0H797.0V1330.1H794.3V1330.1H791.6V1322.0H788.9V1324.7H786.2V1324.7H783.5V1324.7H780.8V1324.7H778.1V1332.8H775.4V1332.8H772.7V1324.7H770.1V1324.7H767.4V1322.0H764.7V1322.0H762.0V1324.7H759.3V1324.7H756.6V1324.7H753.9V1324.7H751.2V1332.8H748.5V1332.8H745.8V1324.7H743.1V1322.0H740.4V1319.3H737.7V1322.0H735.1V1327.4H732.4V1327.4H729.7V1324.7H727.0V1324.7H724.3V1327.4H721.6V1327.4H718.9V1322.0H716.2V1322.0H713.5V1322.0H710.8V1311.2H708.1V1313.9H705.4V1313.9H702.7V1308.6H700.0V1303.2H697.4V1297.8H694.7V1295.1H692.0V1287.0H689.3V1281.6H686.6V1273.6H683.9V1270.9H681.2V1268.2H678.5V1268.2H675.8V1276.2H673.1V1281.6H670.4V1292.4H667.7V1297.8H665.0V1297.8H662.4V1303.2H659.7V1311.2H657.0V1311.2H654.3V1308.6H651.6V1313.9H648.9V1313.9H646.2V1322.0H643.5V1322.0H640.8V1319.3H638.1V1319.3H635.4V1313.9H632.7V1313.9H630.0V1319.3H627.4V1319.3H624.7V1311.2H622.0V1311.2H619.3V1316.6H616.6V1316.6H613.9V1313.9H611.2V1311.2H608.5V1313.9H605.8V1313.9H603.1V1311.2H600.4V1311.2H597.7V1311.2H595.0V1313.9H592.4V1313.9H589.7V1313.9H587.0V1313.9H584.3V1311.2H581.6V1311.2H578.9V1319.3H576.2V1319.3H573.5V1313.9H570.8V1313.9H568.1V1313.9H565.4V1308.6H562.7V1303.2H560.0V1303.2H557.3V1305.9H554.7V1308.6H552.0V1308.6H549.3V1311.2H546.6V1311.2H543.9V1303.2H541.2V1303.2H538.5V1300.5H535.8V1297.8H533.1V1295.1H530.4V1300.5H527.7V1300.5H525.0V1300.5H522.3V1300.5H519.7V1297.8H517.0V1297.8H514.3V1292.4H511.6V1297.8H508.9V1303.2H506.2V1303.2H503.5V1297.8H500.8V1297.8H498.1V1292.4H495.4V1300.5H492.7V1300.5H490.0V1297.8H487.3V1297.8H484.6V1297.8H482.0V1295.1H479.3V1287.0H476.6V1287.0H473.9V1287.0H471.2V1287.0H468.5V1284.3H465.8V1281.6H463.1V1287.0H460.4V1287.0H457.7V1281.6H455.0V1278.9H452.3V1278.9H449.6V1284.3H447.0V1284.3H444.3V1281.6H441.6V1281.6H438.9V1273.6H436.2V1276.2H433.5V1278.9H430.8V1281.6H428.1V1281.6H425.4V1278.9H422.7V1278.9H420.0V1281.6H417.3V1281.6H414.6V1281.6H412.0V1270.9H409.3V1270.9H406.6V1265.5H403.9V1278.9H401.2V1278.9H398.5V1260.1H395.8V1260.1H393.1V1273.6H390.4V1273.6H387.7V1265.5H385.0V1257.4H382.3V1257.4H379.6V1262.8H376.9V1262.8H374.3V1262.8H371.6V1257.4H368.9V1257.4H366.2V1257.4H363.5V1252.0H360.8V1252.0H358.1V1249.3H355.4V1260.1H352.7V1260.1H350.0V1252.0H347.3V1252.0H344.6V1246.6H341.9V1246.6H339.3V1243.9H336.6V1243.9H333.9V1238.5H331.2V1243.9H328.5V1246.6H325.8V1246.6H323.1V1243.9H320.4V1241.2H317.7V1241.2H315.0V1238.5H312.3V1238.5H309.6V1243.9H306.9V1243.9H304.3V1241.2H301.6V1241.2H298.9V1238.5H296.2V1238.5H293.5V1238.5H290.8V1233.2H288.1V1235.9H285.4V1235.9H282.7V1235.9H280.0V1233.2H277.3V1233.2H274.6V1249.3H271.9V1249.3H269.2V1243.9H266.6V1243.9H263.9V1249.3H261.2V1249.3H258.5V1249.3H255.8V1233.2H253.1V1233.2H250.4V1233.2H247.7V1235.9H245.0V1243.9H242.3V1243.9H239.6V1241.2H236.9V1241.2H234.2V1227.8H231.6Z"/>
<path fill="#ff0000" d="M223.5 899.3V899.3H226.2V893.9H228.9V893.9H231.6V893.9H234.2V912.8H236.9V912.8H239.6V912.8H242.3V915.4H245.0V904.7H247.7V904.7H250.4V912.8H253.1V907.4H255.8V907.4H258.5V910.1H261.2V910.1H263.9V915.4H266.6V918.1H269.2V902.0H271.9V902.0H274.6V907.4H277.3V907.4H280.0V907.4H282.7V912.8H285.4V923.5H288.1V907.4H290.8V907.4H293.5V912.8H296.2V915.4H298.9V915.4H301.6V915.4H304.3V899.3H306.9V899.3H309.6V899.3H312.3V918.1H315.0V926.2H317.7V926.2H320.4V915.4H323.1V915.4H325.8V928.9H328.5V918.1H331.2V910.1H333.9V910.1H336.6V926.2H339.3V926.2H341.9V926.2H344.6V915.4H347.3V915.4H350.0V918.1H352.7V931.6H355.4V934.3H358.1V934.3H360.8V934.3H363.5V937.0H366.2V937.0H368.9V931.6H371.6V931.6H374.3V942.4H376.9V942.4H379.6V942.4H382.3V926.2H385.0V926.2H387.7V939.7H390.4V942.4H393.1V958.5H395.8V955.8H398.5V947.8H401.2V947.8H403.9V947.8H406.6V963.9H409.3V963.9H412.0V963.9H414.6V961.2H417.3V961.2H420.0V963.9H422.7V963.9H425.4V969.3H428.1V969.3H430.8V969.3H433.5V969.3H436.2V958.5H438.9V958.5H441.6V972.0H444.3V972.0H447.0V963.9H449.6V963.9H452.3V982.8H455.0V980.1H457.7V980.1H460.4V980.1H463.1V988.1H465.8V982.8H468.5V982.8H471.2V988.1H473.9V988.1H476.6V990.8H479.3V990.8H482.0V990.8H484.6V1001.6H487.3V985.5H490.0V985.5H492.7V1001.6H495.4V1001.6H498.1V1007.0H500.8V998.9H503.5V998.9H506.2V1007.0H508.9V1004.3H511.6V1004.3H514.3V1007.0H517.0V1007.0H519.7V1007.0H522.3V1007.0H525.0V1007.0H527.7V1009.7H530.4V1009.7H533.1V1017.8H535.8V1020.5H538.5V1020.5H541.2V1023.1H543.9V1012.4H546.6V1004.3H549.3V1004.3H552.0V1020.5H554.7V1023.1H557.3V1023.1H560.0V1020.5H562.7V1017.8H565.4V1015.1H568.1V1015.1H570.8V1023.1H573.5V1023.1H576.2V1025.8H578.9V1025.8H581.6V1028.5H584.3V1031.2H587.0V1031.2H589.7V1031.2H592.4V1015.1H595.0V1015.1H597.7V1028.5H600.4V1031.2H603.1V1031.2H605.8V1031.2H608.5V1017.8H611.2V1017.8H613.9V1028.5H616.6V1028.5H619.3V1025.8H622.0V1025.8H624.7V1028.5H627.4V1025.8H630.0V1025.8H632.7V1036.6H635.4V1020.5H638.1V1020.5H640.8V1039.3H643.5V1036.6H646.2V1036.6H648.9V1031.2H651.6V1031.2H654.3V1033.9H657.0V1028.5H659.7V1025.8H662.4V1012.4H665.0V1012.4H667.7V1007.0H670.4V998.9H673.1V974.7H675.8V953.1H678.5V950.5H681.2V931.6H683.9V926.2H686.6V926.2H689.3V937.0H692.0V953.1H694.7V966.6H697.4V982.8H700.0V998.9H702.7V1017.8H705.4V1023.1H708.1V1031.2H710.8V1033.9H713.5V1036.6H716.2V1031.2H718.9V1031.2H721.6V1031.2H724.3V1033.9H727.0V1033.9H729.7V1033.9H732.4V1044.7H735.1V1036.6H737.7V1036.6H740.4V1044.7H743.1V1050.1H745.8V1052.8H748.5V1052.8H751.2V1052.8H753.9V1052.8H756.6V1052.8H759.3V1047.4H762.0V1047.4H764.7V1052.8H767.4V1058.2H770.1V1058.2H772.7V1058.2H775.4V1063.5H778.1V1058.2H780.8V1058.2H783.5V1047.4H786.2V1047.4H788.9V1058.2H791.6V1050.1H794.3V1050.1H797.0V1050.1H799.7V1042.0H802.4V1042.0H805.1V1044.7H807.8V1044.7H810.4V1050.1H813.1V1031.2H815.8V1031.2H818.5V1031.2H821.2V1036.6H823.9V1025.8H826.6V1012.4H829.3V1001.6H832.0V961.2H834.7V955.8H837.4V937.0H840.1V912.8H842.8V880.4H845.4V867.0H848.1V858.9H850.8V858.9H853.5V867.0H856.2V880.4H858.9V904.7H861.6V934.3H864.3V966.6H867.0V990.8H869.7V996.2H872.4V1012.4H875.1V1012.4H877.8V1039.3H880.4V1039.3H883.1V1042.0H885.8V1042.0H888.5V1052.8H891.2V1039.3H893.9V1039.3H896.6V1050.1H899.3V1050.1H902.0V1052.8H904.7V1052.8H907.4V1058.2H910.1V1044.7H912.8V1044.7H915.4V1044.7H918.1V1058.2H920.8V1058.2H923.5V1058.2H926.2V1058.2H928.9V1055.5H931.6V1055.5H934.3V1055.5H937.0V1060.8H939.7V1058.2H942.4V1058.2H945.1V1058.2H947.8V1063.5H950.5V1063.5H953.1V1063.5H955.8V1063.5H958.5V1052.8H961.2V1052.8H963.9V1055.5H966.6V1058.2H969.3V1063.5H972.0V1066.2H974.7V1060.8H977.4V1060.8H980.1V1060.8H982.8V1060.8H985.5V1068.9H988.1V1060.8H990.8V1060.8H993.5V1060.8H996.2V1063.5H998.9V1063.5H1001.6V1058.2H1004.3V1058.2H1007.0V1060.8H1009.7V1066.2H1012.4V1071.6H1015.1V1071.6H1017.8V1074.3H1020.5V1071.6H1023.1V1071.6H1025.8V1074.3H1028.5V1074.3H1031.2V1071.6H1033.9V1071.6H1036.6V1071.6H1039.3V1071.6H1042.0V1077.0H1044.7V1074.3H1047.4V1071.6H1050.1V1071.6H1052.8V1071.6H1055.5V1074.3H1058.2V1066.2H1060.8V1066.2H1063.5V1074.3H1066.2V1063.5H1068.9V1063.5H1071.6V1066.2H1074.3V1066.2H1077.0V1071.6H1079.7V1077.0H1082.4V1066.2H1085.1V1066.2H1087.8V1066.2H1090.5V1066.2H1093.2V1071.6H1095.8V1079.7H1098.5V1079.7H1101.2V1066.2H1103.9V1066.2H1106.6V1077.0H1109.3V1077.0H1112.0V1079.7H1114.7V1074.3H1117.4V1066.2H1120.1V1066.2H1122.8V1066.2H1125.5V1068.9H1128.2V1068.9H1130.8V1068.9H1133.5V1068.9H1136.2V1068.9H1138.9V1068.9H1141.6V1077.0H1144.3V1071.6H1147.0V1071.6H1149.7V1074.3H1152.4V1074.3H1155.1V1077.0H1157.8V1079.7H1160.5V1079.7H1163.2V1074.3H1165.9V1074.3H1168.5V1077.0H1171.2V1082.4H1173.9V1079.7H1176.6V1079.7H1179.3V1074.3H1182.0V1074.3H1184.7V1074.3H1187.4V1074.3H1190.1V1077.0H1192.8V1082.4H1195.5V1082.4H1198.2V1079.7H1200.9V1079.7H1203.5V1082.4H1206.2V1077.0H1208.9V1077.0H1211.6V1082.4H1214.3V1068.9H1217.0V1068.9H1219.7V1068.9H1222.4V1074.3H1225.1V1082.4H1227.8V1077.0H1230.5V1074.3H1233.2V1074.3H1235.9V1068.9H1238.5V1068.9H1241.2V1079.7H1243.9V1074.3H1246.6V1071.6H1249.3V1068.9H1252.0V1068.9H1254.7V1068.9H1257.4V1077.0H1260.1V1077.0H1262.8V1071.6H1265.5V1071.6H1268.2V1079.7H1270.9V1082.4H1273.6V1079.7H1276.2V1079.7H1278.9V1082.4H1281.6V1079.7H1284.3V1079.7H1287.0V1079.7H1289.7V1074.3H1292.4V1074.3H1295.1V1074.3H1297.8V1079.7H1300.5V1079.7H1303.2V1079.7H1305.9V1074.3H1308.6V1066.2H1311.2V1066.2H1313.9V1068.9H1316.6V1068.9H1319.3V1077.0H1322.0V1077.0H1324.7V1077.0H1327.4V1077.0H1330.1V1077.0H1332.8V1071.6H1335.5V1071.6H1338.2V1077.0H1340.9V1066.2H1343.6V1066.2H1346.2V1068.9H1348.9V1063.5H1351.6V1063.5H1354.3V1050.1H1357.0V1047.4H1359.7V1047.4H1362.4V1047.4H1365.1V1044.7H1367.8V1036.6H1370.5V1028.5H1373.2V1020.5H1375.9V1020.5H1378.6V1020.5H1381.3V1017.8H1383.9V1017.8H1386.6V1023.1H1389.3V1023.1H1392.0V1028.5H1394.7V1036.6H1397.4V1044.7H1400.1V1047.4H1402.8V1047.4H1405.5V1047.4H1408.2V1050.1H1410.9V1050.1H1413.6V1063.5H1416.3V1066.2H1418.9V1071.6H1421.6V1071.6H1424.3V1074.3H1427.0V1071.6H1429.7V1071.6H1432.4V1074.3H1435.1V1074.3H1437.8V1079.7H1440.5V1079.7H1443.2V1079.7H1445.9V1082.4H1448.6V1082.4H1451.3V1074.3H1454.0V1074.3H1456.6V1079.7H1459.3V1071.6H1462.0V1071.6H1464.7V1068.9H1467.4V1068.9H1470.1V1074.3H1472.8V1074.3H1475.5V1079.7H1478.2V1079.7H1480.9V1071.6H1483.6V1071.6H1486.3V1074.3H1489.0V1079.7H1491.6V1074.3H1494.3V1074.3H1497.0V1079.7H1499.7V1079.7H1502.4V1079.7H1505.1V1085.1H1507.8V1082.4H1510.5V1082.4H1513.2V1079.7H1515.9V1079.7H1518.6V1082.4H1521.3V1082.4H1524.0V1079.7H1526.6V1079.7H1529.3V1085.1H1532.0V1077.0H1534.7V1074.3H1537.4V1074.3H1540.1V1077.0H1542.8V1077.0H1545.5V1077.0H1548.2V1071.6H1550.9V1071.6H1553.6V1071.6H1556.3V1071.6H1559.0V1071.6H1561.6V1071.6H1564.3V1071.6H1567.0V1082.4H1569.7V1077.0H1572.4V1077.0H1575.1V1085.1H1577.8V1085.1H1580.5V1085.1H1583.2V1085.1H1585.9V1085.1H1588.6V1085.1H1591.3V1085.1H1594.0V1087.8H1596.7V1087.8H1599.3V1085.1H1602.0V1077.0H1604.7V1077.0H1607.4V1082.4H1610.1V1077.0H1612.8V1077.0H1615.5V1077.0H1618.2V1077.0H1620.9V1077.0H1623.6V1079.7H1626.3V1082.4H1629.0V1082.4H1631.7V1087.8H1634.3V1085.1H1637.0V1103.9H1634.3V1106.6H1631.7V1109.3H1629.0V1112.0H1626.3V1112.0H1623.6V1103.9H1620.9V1103.9H1618.2V1114.7H1615.5V1114.7H1612.8V1106.6H1610.1V1103.9H1607.4V1106.6H1604.7V1106.6H1602.0V1114.7H1599.3V1114.7H1596.7V1103.9H1594.0V1109.3H1591.3V1109.3H1588.6V1112.0H1585.9V1112.0H1583.2V1114.7H1580.5V1114.7H1577.8V1114.7H1575.1V1114.7H1572.4V1101.2H1569.7V1098.5H1567.0V1114.7H1564.3V1114.7H1561.6V1106.6H1559.0V1103.9H1556.3V1112.0H1553.6V1112.0H1550.9V1112.0H1548.2V1106.6H1545.5V1103.9H1542.8V1103.9H1540.1V1103.9H1537.4V1112.0H1534.7V1112.0H1532.0V1112.0H1529.3V1103.9H1526.6V1103.9H1524.0V1101.2H1521.3V1103.9H1518.6V1103.9H1515.9V1103.9H1513.2V1103.9H1510.5V1103.9H1507.8V1103.9H1505.1V1103.9H1502.4V1098.5H1499.7V1098.5H1497.0V1098.5H1494.3V1106.6H1491.6V1112.0H1489.0V1112.0H1486.3V1112.0H1483.6V1098.5H1480.9V1106.6H1478.2V1112.0H1475.5V1112.0H1472.8V1112.0H1470.1V1101.2H1467.4V1101.2H1464.7V1106.6H1462.0V1106.6H1459.3V1103.9H1456.6V1103.9H1454.0V1103.9H1451.3V1101.2H1448.6V1103.9H1445.9V1109.3H1443.2V1109.3H1440.5V1103.9H1437.8V1095.8H1435.1V1095.8H1432.4V1098.5H1429.7V1103.9H1427.0V1103.9H1424.3V1098.5H1421.6V1098.5H1418.9V1090.5H1416.3V1090.5H1413.6V1079.7H1410.9V1087.8H1408.2V1087.8H1405.5V1079.7H1402.8V1068.9H1400.1V1068.9H1397.4V1068.9H1394.7V1058.2H1392.0V1052.8H1389.3V1055.5H1386.6V1055.5H1383.9V1055.5H1381.3V1044.7H1378.6V1052.8H1375.9V1063.5H1373.2V1063.5H1370.5V1068.9H1367.8V1068.9H1365.1V1079.7H1362.4V1087.8H1359.7V1087.8H1357.0V1087.8H1354.3V1087.8H1351.6V1087.8H1348.9V1098.5H1346.2V1098.5H1343.6V1098.5H1340.9V1098.5H1338.2V1098.5H1335.5V1098.5H1332.8V1095.8H1330.1V1093.2H1327.4V1095.8H1324.7V1095.8H1322.0V1098.5H1319.3V1106.6H1316.6V1106.6H1313.9V1106.6H1311.2V1106.6H1308.6V1106.6H1305.9V1101.2H1303.2V1101.2H1300.5V1101.2H1297.8V1106.6H1295.1V1106.6H1292.4V1101.2H1289.7V1103.9H1287.0V1103.9H1284.3V1098.5H1281.6V1098.5H1278.9V1098.5H1276.2V1109.3H1273.6V1109.3H1270.9V1112.0H1268.2V1112.0H1265.5V1106.6H1262.8V1106.6H1260.1V1106.6H1257.4V1095.8H1254.7V1098.5H1252.0V1098.5H1249.3V1103.9H1246.6V1103.9H1243.9V1106.6H1241.2V1106.6H1238.5V1098.5H1235.9V1095.8H1233.2V1095.8H1230.5V1103.9H1227.8V1103.9H1225.1V1103.9H1222.4V1106.6H1219.7V1106.6H1217.0V1101.2H1214.3V1101.2H1211.6V1109.3H1208.9V1109.3H1206.2V1109.3H1203.5V1101.2H1200.9V1101.2H1198.2V1098.5H1195.5V1101.2H1192.8V1106.6H1190.1V1106.6H1187.4V1095.8H1184.7V1095.8H1182.0V1098.5H1179.3V1112.0H1176.6V1112.0H1173.9V1103.9H1171.2V1106.6H1168.5V1106.6H1165.9V1106.6H1163.2V1106.6H1160.5V1103.9H1157.8V1103.9H1155.1V1101.2H1152.4V1109.3H1149.7V1109.3H1147.0V1098.5H1144.3V1106.6H1141.6V1106.6H1138.9V1106.6H1136.2V1098.5H1133.5V1106.6H1130.8V1106.6H1128.2V1098.5H1125.5V1098.5H1122.8V1106.6H1120.1V1106.6H1117.4V1106.6H1114.7V1101.2H1112.0V1101.2H1109.3V1101.2H1106.6V1109.3H1103.9V1109.3H1101.2V1109.3H1098.5V1101.2H1095.8V1101.2H1093.2V1098.5H1090.5V1103.9H1087.8V1103.9H1085.1V1106.6H1082.4V1106.6H1079.7V1098.5H1077.0V1098.5H1074.3V1098.5H1071.6V1098.5H1068.9V1098.5H1066.2V1101.2H1063.5V1101.2H1060.8V1103.9H1058.2V1103.9H1055.5V1093.2H1052.8V1101.2H1050.1V1101.2H1047.4V1106.6H1044.7V1106.6H1042.0V1106.6H1039.3V1101.2H1036.6V1098.5H1033.9V1093.2H1031.2V1095.8H1028.5V1101.2H1025.8V1101.2H1023.1V1095.8H1020.5V1101.2H1017.8V1101.2H1015.1V1101.2H1012.4V1098.5H1009.7V1087.8H1007.0V1090.5H1004.3V1098.5H1001.6V1098.5H998.9V1087.8H996.2V1087.8H993.5V1087.8H990.8V1087.8H988.1V1087.8H985.5V1098.5H982.8V1098.5H980.1V1093.2H977.4V1093.2H974.7V1098.5H972.0V1098.5H969.3V1090.5H966.6V1090.5H963.9V1090.5H961.2V1085.1H958.5V1085.1H955.8V1090.5H953.1V1090.5H950.5V1087.8H947.8V1087.8H945.1V1095.8H942.4V1095.8H939.7V1079.7H937.0V1079.7H934.3V1082.4H931.6V1082.4H928.9V1087.8H926.2V1087.8H923.5V1093.2H920.8V1093.2H918.1V1090.5H915.4V1085.1H912.8V1085.1H910.1V1079.7H907.4V1079.7H904.7V1079.7H902.0V1090.5H899.3V1090.5H896.6V1074.3H893.9V1079.7H891.2V1079.7H888.5V1079.7H885.8V1066.2H883.1V1063.5H880.4V1060.8H877.8V1060.8H875.1V1058.2H872.4V1058.2H869.7V1028.5H867.0V1009.7H864.3V998.9H861.6V974.7H858.9V942.4H856.2V915.4H853.5V891.2H850.8V899.3H848.1V920.8H845.4V945.1H842.8V963.9H840.1V982.8H837.4V1009.7H834.7V1028.5H832.0V1044.7H829.3V1047.4H826.6V1055.5H823.9V1066.2H821.2V1066.2H818.5V1066.2H815.8V1074.3H813.1V1074.3H810.4V1071.6H807.8V1077.0H805.1V1077.0H802.4V1077.0H799.7V1077.0H797.0V1090.5H794.3V1090.5H791.6V1077.0H788.9V1077.0H786.2V1085.1H783.5V1085.1H780.8V1079.7H778.1V1090.5H775.4V1090.5H772.7V1090.5H770.1V1087.8H767.4V1077.0H764.7V1077.0H762.0V1079.7H759.3V1079.7H756.6V1077.0H753.9V1077.0H751.2V1082.4H748.5V1082.4H745.8V1074.3H743.1V1068.9H740.4V1068.9H737.7V1074.3H735.1V1074.3H732.4V1074.3H729.7V1074.3H727.0V1079.7H724.3V1079.7H721.6V1079.7H718.9V1068.9H716.2V1068.9H713.5V1068.9H710.8V1068.9H708.1V1063.5H705.4V1063.5H702.7V1036.6H700.0V1031.2H697.4V1009.7H694.7V1009.7H692.0V990.8H689.3V961.2H686.6V958.5H683.9V985.5H681.2V996.2H678.5V1012.4H675.8V1020.5H673.1V1039.3H670.4V1039.3H667.7V1044.7H665.0V1066.2H662.4V1066.2H659.7V1060.8H657.0V1060.8H654.3V1060.8H651.6V1063.5H648.9V1063.5H646.2V1060.8H643.5V1058.2H640.8V1058.2H638.1V1060.8H635.4V1060.8H632.7V1063.5H630.0V1063.5H627.4V1063.5H624.7V1063.5H622.0V1058.2H619.3V1058.2H616.6V1058.2H613.9V1071.6H611.2V1071.6H608.5V1063.5H605.8V1063.5H603.1V1063.5H600.4V1063.5H597.7V1063.5H595.0V1052.8H592.4V1055.5H589.7V1055.5H587.0V1050.1H584.3V1050.1H581.6V1052.8H578.9V1058.2H576.2V1058.2H573.5V1058.2H570.8V1063.5H568.1V1063.5H565.4V1050.1H562.7V1050.1H560.0V1047.4H557.3V1055.5H554.7V1055.5H552.0V1050.1H549.3V1050.1H546.6V1050.1H543.9V1055.5H541.2V1055.5H538.5V1050.1H535.8V1052.8H533.1V1055.5H530.4V1055.5H527.7V1042.0H525.0V1052.8H522.3V1052.8H519.7V1052.8H517.0V1052.8H514.3V1039.3H511.6V1033.9H508.9V1036.6H506.2V1042.0H503.5V1042.0H500.8V1042.0H498.1V1036.6H495.4V1036.6H492.7V1025.8H490.0V1028.5H487.3V1033.9H484.6V1033.9H482.0V1033.9H479.3V1033.9H476.6V1017.8H473.9V1025.8H471.2V1025.8H468.5V1025.8H465.8V1025.8H463.1V1031.2H460.4V1031.2H457.7V1015.1H455.0V1015.1H452.3V1020.5H449.6V1020.5H447.0V1009.7H444.3V1007.0H441.6V1020.5H438.9V1020.5H436.2V1020.5H433.5V1009.7H430.8V1009.7H428.1V998.9H425.4V998.9H422.7V993.5H420.0V996.2H417.3V996.2H414.6V996.2H412.0V993.5H409.3V993.5H406.6V1004.3H403.9V1004.3H401.2V980.1H398.5V977.4H395.8V993.5H393.1V993.5H390.4V998.9H387.7V998.9H385.0V974.7H382.3V974.7H379.6V972.0H376.9V982.8H374.3V982.8H371.6V966.6H368.9V972.0H366.2V974.7H363.5V974.7H360.8V974.7H358.1V966.6H355.4V966.6H352.7V963.9H350.0V963.9H347.3V963.9H344.6V985.5H341.9V985.5H339.3V958.5H336.6V958.5H333.9V955.8H331.2V966.6H328.5V980.1H325.8V980.1H323.1V955.8H320.4V961.2H317.7V963.9H315.0V963.9H312.3V955.8H309.6V953.1H306.9V958.5H304.3V958.5H301.6V945.1H298.9V945.1H296.2V945.1H293.5V953.1H290.8V953.1H288.1V953.1H285.4V953.1H282.7V942.4H280.0V955.8H277.3V963.9H274.6V963.9H271.9V958.5H269.2V958.5H266.6V947.8H263.9V945.1H261.2V945.1H258.5V942.4H255.8V953.1H253.1V953.1H250.4V958.5H247.7V958.5H245.0V947.8H242.3V942.4H239.6V942.4H236.9V947.8H234.2V953.1H231.6V953.1H228.9V953.1H226.2V907.4H223.5Z"/>
<path fill="#0000ff" d="M215.4 578.9V578.9H218.1V573.5H220.8V554.7H223.5V554.7H226.2V562.7H228.9V578.9H231.6V568.1H234.2V565.4H236.9V565.4H239.6V570.8H242.3V568.1H245.0V568.1H247.7V568.1H250.4V565.4H253.1V565.4H255.8V554.7H258.5V554.7H261.2V565.4H263.9V565.4H266.6V565.4H269.2V565.4H271.9V565.4H274.6V565.4H277.3V568.1H280.0V546.6H282.7V546.6H285.4V546.6H288.1V570.8H290.8V565.4H293.5V565.4H296.2V560.0H298.9V560.0H301.6V562.7H304.3V570.8H306.9V570.8H309.6V578.9H312.3V573.5H315.0V573.5H317.7V573.5H320.4V573.5H323.1V570.8H325.8V570.8H328.5V581.6H331.2V581.6H333.9V568.1H336.6V568.1H339.3V589.7H341.9V592.4H344.6V595.0H347.3V595.0H350.0V595.0H352.7V595.0H355.4V581.6H358.1V581.6H360.8V592.4H363.5V595.0H366.2V608.5H368.9V592.4H371.6V592.4H374.3V603.1H376.9V603.1H379.6V616.6H382.3V592.4H385.0V592.4H387.7V622.0H390.4V616.6H393.1V600.4H395.8V600.4H398.5V603.1H401.2V603.1H403.9V622.0H406.6V622.0H409.3V622.0H412.0V630.0H414.6V632.7H417.3V616.6H420.0V616.6H422.7V616.6H425.4V630.0H428.1V640.8H430.8V643.5H433.5V643.5H436.2V643.5H438.9V643.5H441.6V654.3H444.3V657.0H447.0V657.0H449.6V651.6H452.3V651.6H455.0V651.6H457.7V651.6H460.4V651.6H463.1V654.3H465.8V654.3H468.5V667.7H471.2V667.7H473.9V665.0H476.6V665.0H479.3V670.4H482.0V659.7H484.6V659.7H487.3V659.7H490.0V673.1H492.7V673.1H495.4V675.8H498.1V675.8H500.8V675.8H503.5V675.8H506.2V678.5H508.9V673.1H511.6V673.1H514.3V673.1H517.0V689.3H519.7V692.0H522.3V692.0H525.0V692.0H527.7V689.3H530.4V689.3H533.1V692.0H535.8V694.7H538.5V700.0H541.2V683.9H543.9V683.9H546.6V692.0H549.3V692.0H552.0V702.7H554.7V708.1H557.3V708.1H560.0V689.3H562.7V689.3H565.4V702.7H568.1V702.7H570.8V716.2H573.5V710.8H576.2V708.1H578.9V708.1H581.6V708.1H584.3V708.1H587.0V705.4H589.7V705.4H592.4V710.8H595.0V710.8H597.7V716.2H600.4V716.2H603.1V716.2H605.8V713.5H608.5V713.5H611.2V710.8H613.9V710.8H616.6V718.9H619.3V718.9H622.0V718.9H624.7V718.9H627.4V710.8H630.0V710.8H632.7V716.2H635.4V705.4H638.1V705.4H640.8V705.4H643.5V705.4H646.2V716.2H648.9V710.8H651.6V708.1H654.3V692.0H657.0V692.0H659.7V692.0H662.4V665.0H665.0V654.3H667.7V608.5H670.4V581.6H673.1V538.5H675.8V492.7H678.5V490.0H681.2V490.0H683.9V500.8H686.6V543.9H689.3V603.1H692.0V638.1H694.7V667.7H697.4V667.7H700.0V708.1H702.7V716.2H705.4V721.6H708.1V721.6H710.8V727.0H713.5V735.1H716.2V732.4H718.9V732.4H721.6V724.3H724.3V724.3H727.0V724.3H729.7V735.1H732.4V740.4H735.1V740.4H737.7V745.8H740.4V743.1H743.1V737.7H745.8V737.7H748.5V743.1H751.2V740.4H753.9V740.4H756.6V743.1H759.3V745.8H762.0V737.7H764.7V737.7H767.4V743.1H770.1V743.1H772.7V743.1H775.4V743.1H778.1V729.7H780.8V729.7H783.5V743.1H786.2V735.1H788.9V735.1H791.6V735.1H794.3V729.7H797.0V729.7H799.7V721.6H802.4V721.6H805.1V724.3H807.8V710.8H810.4V697.4H813.1V694.7H815.8V683.9H818.5V673.1H821.2V654.3H823.9V624.7H826.6V587.0H829.3V533.1H832.0V476.6H834.7V406.6H837.4V325.8H840.1V290.8H842.8V266.6H845.4V266.6H848.1V296.2H850.8V363.5H853.5V403.9H856.2V482.0H858.9V538.5H861.6V608.5H864.3V638.1H867.0V670.4H869.7V686.6H872.4V694.7H875.1V694.7H877.8V700.0H880.4V721.6H883.1V716.2H885.8V716.2H888.5V732.4H891.2V732.4H893.9V740.4H896.6V740.4H899.3V745.8H902.0V740.4H904.7V740.4H907.4V740.4H910.1V751.2H912.8V737.7H915.4V737.7H918.1V748.5H920.8V748.5H923.5V748.5H926.2V748.5H928.9V740.4H931.6V740.4H934.3V756.6H937.0V753.9H939.7V751.2H942.4V751.2H945.1V751.2H947.8V751.2H950.5V751.2H953.1V743.1H955.8V743.1H958.5V743.1H961.2V745.8H963.9V756.6H966.6V759.3H969.3V759.3H972.0V759.3H974.7V751.2H977.4V751.2H980.1V759.3H982.8V762.0H985.5V756.6H988.1V756.6H990.8V759.3H993.5V753.9H996.2V753.9H998.9V753.9H1001.6V751.2H1004.3V751.2H1007.0V759.3H1009.7V762.0H1012.4V762.0H1015.1V753.9H1017.8V753.9H1020.5V764.7H1023.1V764.7H1025.8V759.3H1028.5V756.6H1031.2V756.6H1033.9V762.0H1036.6V762.0H1039.3V756.6H1042.0V756.6H1044.7V767.4H1047.4V767.4H1050.1V767.4H1052.8V756.6H1055.5V756.6H1058.2V756.6H1060.8V767.4H1063.5V767.4H1066.2V767.4H1068.9V759.3H1071.6V759.3H1074.3V770.1H1077.0V770.1H1079.7V764.7H1082.4V764.7H1085.1V772.7H1087.8V772.7H1090.5V772.7H1093.2V772.7H1095.8V762.0H1098.5V762.0H1101.2V764.7H1103.9V764.7H1106.6V764.7H1109.3V770.1H1112.0V762.0H1114.7V762.0H1117.4V762.0H1120.1V770.1H1122.8V770.1H1125.5V770.1H1128.2V772.7H1130.8V770.1H1133.5V770.1H1136.2V775.4H1138.9V770.1H1141.6V764.7H1144.3V764.7H1147.0V775.4H1149.7V775.4H1152.4V775.4H1155.1V764.7H1157.8V764.7H1160.5V764.7H1163.2V772.7H1165.9V772.7H1168.5V775.4H1171.2V775.4H1173.9V775.4H1176.6V775.4H1179.3V767.4H1182.0V767.4H1184.7V778.1H1187.4V770.1H1190.1V770.1H1192.8V772.7H1195.5V764.7H1198.2V764.7H1200.9V772.7H1203.5V764.7H1206.2V764.7H1208.9V772.7H1211.6V772.7H1214.3V772.7H1217.0V772.7H1219.7V767.4H1222.4V767.4H1225.1V775.4H1227.8V775.4H1230.5V775.4H1233.2V778.1H1235.9V778.1H1238.5V772.7H1241.2V772.7H1243.9V772.7H1246.6V767.4H1249.3V767.4H1252.0V767.4H1254.7V767.4H1257.4V775.4H1260.1V762.0H1262.8V762.0H1265.5V767.4H1268.2V770.1H1270.9V767.4H1273.6V767.4H1276.2V775.4H1278.9V767.4H1281.6V767.4H1284.3V767.4H1287.0V770.1H1289.7V770.1H1292.4V762.0H1295.1V762.0H1297.8V759.3H1300.5V759.3H1303.2V759.3H1305.9V759.3H1308.6V767.4H1311.2V767.4H1313.9V767.4H1316.6V762.0H1319.3V759.3H1322.0V759.3H1324.7V748.5H1327.4V748.5H1330.1V753.9H1332.8V740.4H1335.5V740.4H1338.2V743.1H1340.9V740.4H1343.6V724.3H1346.2V716.2H1348.9V716.2H1351.6V692.0H1354.3V678.5H1357.0V659.7H1359.7V643.5H1362.4V635.4H1365.1V627.4H1367.8V622.0H1370.5V595.0H1373.2V595.0H1375.9V616.6H1378.6V632.7H1381.3V648.9H1383.9V654.3H1386.6V659.7H1389.3V692.0H1392.0V702.7H1394.7V718.9H1397.4V718.9H1400.1V718.9H1402.8V729.7H1405.5V743.1H1408.2V751.2H1410.9V751.2H1413.6V753.9H1416.3V753.9H1418.9V753.9H1421.6V751.2H1424.3V751.2H1427.0V751.2H1429.7V759.3H1432.4V759.3H1435.1V762.0H1437.8V759.3H1440.5V759.3H1443.2V764.7H1445.9V764.7H1448.6V764.7H1451.3V770.1H1454.0V756.6H1456.6V756.6H1459.3V756.6H1462.0V767.4H1464.7V762.0H1467.4V762.0H1470.1V767.4H1472.8V764.7H1475.5V764.7H1478.2V772.7H1480.9V759.3H1483.6V759.3H1486.3V772.7H1489.0V762.0H1491.6V762.0H1494.3V770.1H1497.0V772.7H1499.7V772.7H1502.4V772.7H1505.1V770.1H1507.8V770.1H1510.5V767.4H1513.2V767.4H1515.9V770.1H1518.6V770.1H1521.3V770.1H1524.0V775.4H1526.6V772.7H1529.3V772.7H1532.0V778.1H1534.7V770.1H1537.4V770.1H1540.1V770.1H1542.8V770.1H1545.5V770.1H1548.2V775.4H1550.9V772.7H1553.6V772.7H1556.3V772.7H1559.0V778.1H1561.6V778.1H1564.3V778.1H1567.0V767.4H1569.7V767.4H1572.4V775.4H1575.1V778.1H1577.8V778.1H1580.5V783.5H1583.2V780.8H1585.9V780.8H1588.6V772.7H1591.3V772.7H1594.0V780.8H1596.7V772.7H1599.3V772.7H1602.0V770.1H1604.7V770.1H1607.4V770.1H1610.1V778.1H1612.8V780.8H1615.5V780.8H1618.2V778.1H1620.9V778.1H1623.6V778.1H1626.3V772.7H1629.0V772.7H1631.7V780.8H1634.3V780.8H1637.0V813.1H1634.3V813.1H1631.7V813.1H1629.0V799.7H1626.3V799.7H1623.6V799.7H1620.9V805.1H1618.2V805.1H1615.5V799.7H1612.8V799.7H1610.1V799.7H1607.4V802.4H1604.7V805.1H1602.0V805.1H1599.3V805.1H1596.7V813.1H1594.0V813.1H1591.3V813.1H1588.6V802.4H1585.9V802.4H1583.2V799.7H1580.5V799.7H1577.8V802.4H1575.1V802.4H1572.4V802.4H1569.7V802.4H1567.0V799.7H1564.3V802.4H1561.6V802.4H1559.0V805.1H1556.3V805.1H1553.6V802.4H1550.9V802.4H1548.2V810.4H1545.5V810.4H1542.8V810.4H1540.1V810.4H1537.4V810.4H1534.7V797.0H1532.0V797.0H1529.3V797.0H1526.6V794.3H1524.0V797.0H1521.3V797.0H1518.6V807.8H1515.9V807.8H1513.2V797.0H1510.5V802.4H1507.8V802.4H1505.1V802.4H1502.4V802.4H1499.7V797.0H1497.0V797.0H1494.3V794.3H1491.6V797.0H1489.0V797.0H1486.3V794.3H1483.6V791.6H1480.9V797.0H1478.2V797.0H1475.5V797.0H1472.8V797.0H1470.1V786.2H1467.4V791.6H1464.7V791.6H1462.0V788.9H1459.3V797.0H1456.6V797.0H1454.0V788.9H1451.3V794.3H1448.6V794.3H1445.9V794.3H1443.2V788.9H1440.5V786.2H1437.8V783.5H1435.1V786.2H1432.4V786.2H1429.7V783.5H1427.0V783.5H1424.3V778.1H1421.6V786.2H1418.9V786.2H1416.3V775.4H1413.6V772.7H1410.9V772.7H1408.2V767.4H1405.5V767.4H1402.8V764.7H1400.1V753.9H1397.4V748.5H1394.7V740.4H1392.0V727.0H1389.3V710.8H1386.6V700.0H1383.9V686.6H1381.3V667.7H1378.6V665.0H1375.9V646.2H1373.2V640.8H1370.5V654.3H1367.8V662.4H1365.1V681.2H1362.4V692.0H1359.7V710.8H1357.0V732.4H1354.3V740.4H1351.6V745.8H1348.9V748.5H1346.2V764.7H1343.6V764.7H1340.9V772.7H1338.2V772.7H1335.5V775.4H1332.8V775.4H1330.1V780.8H1327.4V780.8H1324.7V780.8H1322.0V783.5H1319.3V788.9H1316.6V788.9H1313.9V788.9H1311.2V791.6H1308.6V791.6H1305.9V788.9H1303.2V791.6H1300.5V791.6H1297.8V794.3H1295.1V794.3H1292.4V794.3H1289.7V797.0H1287.0V797.0H1284.3V805.1H1281.6V805.1H1278.9V805.1H1276.2V797.0H1273.6V799.7H1270.9V799.7H1268.2V799.7H1265.5V805.1H1262.8V805.1H1260.1V794.3H1257.4V791.6H1254.7V791.6H1252.0V794.3H1249.3V805.1H1246.6V805.1H1243.9V794.3H1241.2V797.0H1238.5V797.0H1235.9V805.1H1233.2V805.1H1230.5V794.3H1227.8V802.4H1225.1V802.4H1222.4V799.7H1219.7V802.4H1217.0V802.4H1214.3V807.8H1211.6V807.8H1208.9V807.8H1206.2V807.8H1203.5V802.4H1200.9V797.0H1198.2V799.7H1195.5V802.4H1192.8V802.4H1190.1V799.7H1187.4V797.0H1184.7V794.3H1182.0V799.7H1179.3V799.7H1176.6V797.0H1173.9V802.4H1171.2V802.4H1168.5V797.0H1165.9V797.0H1163.2V797.0H1160.5V799.7H1157.8V799.7H1155.1V799.7H1152.4V799.7H1149.7V799.7H1147.0V799.7H1144.3V807.8H1141.6V807.8H1138.9V797.0H1136.2V797.0H1133.5V797.0H1130.8V802.4H1128.2V802.4H1125.5V794.3H1122.8V794.3H1120.1V794.3H1117.4V794.3H1114.7V791.6H1112.0V794.3H1109.3V794.3H1106.6V794.3H1103.9V805.1H1101.2V805.1H1098.5V805.1H1095.8V805.1H1093.2V805.1H1090.5V797.0H1087.8V797.0H1085.1V797.0H1082.4V794.3H1079.7V805.1H1077.0V805.1H1074.3V805.1H1071.6V794.3H1068.9V794.3H1066.2V794.3H1063.5V794.3H1060.8V794.3H1058.2V794.3H1055.5V788.9H1052.8V791.6H1050.1V791.6H1047.4V791.6H1044.7V791.6H1042.0V788.9H1039.3V788.9H1036.6V791.6H1033.9V802.4H1031.2V802.4H1028.5V799.7H1025.8V799.7H1023.1V799.7H1020.5V794.3H1017.8V791.6H1015.1V788.9H1012.4V797.0H1009.7V797.0H1007.0V788.9H1004.3V788.9H1001.6V788.9H998.9V783.5H996.2V783.5H993.5V783.5H990.8V780.8H988.1V783.5H985.5V786.2H982.8V786.2H980.1V783.5H977.4V778.1H974.7V778.1H972.0V786.2H969.3V791.6H966.6V791.6H963.9V786.2H961.2V786.2H958.5V786.2H955.8V778.1H953.1V780.8H950.5V780.8H947.8V780.8H945.1V780.8H942.4V780.8H939.7V780.8H937.0V778.1H934.3V775.4H931.6V786.2H928.9V786.2H926.2V775.4H923.5V775.4H920.8V775.4H918.1V780.8H915.4V780.8H912.8V772.7H910.1V770.1H907.4V780.8H904.7V780.8H902.0V775.4H899.3V767.4H896.6V772.7H893.9V772.7H891.2V764.7H888.5V756.6H885.8V753.9H883.1V751.2H880.4V745.8H877.8V737.7H875.1V735.1H872.4V735.1H869.7V718.9H867.0V697.4H864.3V678.5H861.6V662.4H858.9V616.6H856.2V554.7H853.5V490.0H850.8V414.6H848.1V371.6H845.4V339.3H842.8V414.6H840.1V484.6H837.4V546.6H834.7V595.0H832.0V638.1H829.3V665.0H826.6V681.2H823.9V697.4H821.2V721.6H818.5V721.6H815.8V737.7H813.1V737.7H810.4V751.2H807.8V751.2H805.1V762.0H802.4V762.0H799.7V762.0H797.0V753.9H794.3V756.6H791.6V762.0H788.9V762.0H786.2V775.4H783.5V775.4H780.8V764.7H778.1V764.7H775.4V770.1H772.7V770.1H770.1V770.1H767.4V778.1H764.7V778.1H762.0V772.7H759.3V772.7H756.6V780.8H753.9V780.8H751.2V772.7H748.5V772.7H745.8V770.1H743.1V767.4H740.4V767.4H737.7V767.4H735.1V764.7H732.4V764.7H729.7V764.7H727.0V764.7H724.3V764.7H721.6V753.9H718.9V759.3H716.2V759.3H713.5V759.3H710.8V751.2H708.1V745.8H705.4V735.1H702.7V735.1H700.0V735.1H697.4V716.2H694.7V700.0H692.0V678.5H689.3V646.2H686.6V622.0H683.9V552.0H681.2V546.6H678.5V603.1H675.8V635.4H673.1V665.0H670.4V681.2H667.7V705.4H665.0V710.8H662.4V724.3H659.7V732.4H657.0V732.4H654.3V737.7H651.6V737.7H648.9V745.8H646.2V745.8H643.5V748.5H640.8V748.5H638.1V740.4H635.4V748.5H632.7V759.3H630.0V759.3H627.4V745.8H624.7V745.8H622.0V748.5H619.3V748.5H616.6V748.5H613.9V740.4H611.2V737.7H608.5V745.8H605.8V745.8H603.1V737.7H600.4V737.7H597.7V737.7H595.0V740.4H592.4V740.4H589.7V740.4H587.0V751.2H584.3V751.2H581.6V740.4H578.9V740.4H576.2V740.4H573.5V740.4H570.8V740.4H568.1V745.8H565.4V745.8H562.7V735.1H560.0V735.1H557.3V729.7H554.7V729.7H552.0V729.7H549.3V729.7H546.6V729.7H543.9V727.0H541.2V727.0H538.5V737.7H535.8V737.7H533.1V732.4H530.4V735.1H527.7V735.1H525.0V721.6H522.3V721.6H519.7V710.8H517.0V718.9H514.3V718.9H511.6V705.4H508.9V721.6H506.2V721.6H503.5V721.6H500.8V713.5H498.1V713.5H495.4V705.4H492.7V705.4H490.0V705.4H487.3V708.1H484.6V708.1H482.0V705.4H479.3V710.8H476.6V710.8H473.9V700.0H471.2V692.0H468.5V692.0H465.8V700.0H463.1V700.0H460.4V700.0H457.7V683.9H455.0V692.0H452.3V697.4H449.6V697.4H447.0V681.2H444.3V678.5H441.6V675.8H438.9V689.3H436.2V689.3H433.5V675.8H430.8V665.0H428.1V659.7H425.4V662.4H422.7V665.0H420.0V665.0H417.3V659.7H414.6V659.7H412.0V654.3H409.3V654.3H406.6V673.1H403.9V673.1H401.2V673.1H398.5V643.5H395.8V659.7H393.1V659.7H390.4V648.9H387.7V648.9H385.0V651.6H382.3V659.7H379.6V659.7H376.9V654.3H374.3V654.3H371.6V638.1H368.9V638.1H366.2V632.7H363.5V638.1H360.8V638.1H358.1V638.1H355.4V638.1H352.7V638.1H350.0V638.1H347.3V638.1H344.6V627.4H341.9V627.4H339.3V627.4H336.6V627.4H333.9V608.5H331.2V608.5H328.5V627.4H325.8V627.4H323.1V613.9H320.4V619.3H317.7V619.3H315.0V619.3H312.3V613.9H309.6V611.2H306.9V613.9H304.3V613.9H301.6V608.5H298.9V613.9H296.2V613.9H293.5V600.4H290.8V600.4H288.1V600.4H285.4V597.7H282.7V597.7H280.0V619.3H277.3V619.3H274.6V603.1H271.9V603.1H269.2V613.9H266.6V613.9H263.9V605.8H261.2V603.1H258.5V616.6H255.8V616.6H253.1V616.6H250.4V603.1H247.7V603.1H245.0V597.7H242.3V622.0H239.6V622.0H236.9V622.0H234.2V622.0H231.6V622.0H228.9V611.2H226.2V611.2H223.5V603.1H220.8V600.4H218.1V597.7H215.4Z"/></g>
<text x="227.0" y="1815" text-anchor="middle" class="tk" textLength="71.5" lengthAdjust="spacingAndGlyphs">20</text>
<text x="499.2" y="1815" text-anchor="middle" class="tk" textLength="71.5" lengthAdjust="spacingAndGlyphs">30</text>
<text x="771.3" y="1815" text-anchor="middle" class="tk" textLength="71.5" lengthAdjust="spacingAndGlyphs">40</text>
<text x="1043.5" y="1815" text-anchor="middle" class="tk" textLength="71.5" lengthAdjust="spacingAndGlyphs">50</text>
<text x="1315.7" y="1815" text-anchor="middle" class="tk" textLength="71.5" lengthAdjust="spacingAndGlyphs">60</text>
<text x="1587.8" y="1815" text-anchor="middle" class="tk" textLength="71.5" lengthAdjust="spacingAndGlyphs">70</text>
<text x="1857.0" y="1815" text-anchor="middle" class="tk" textLength="71.5" lengthAdjust="spacingAndGlyphs">80</text>
<g id="labels">
<text transform="translate(145.2,1283) rotate(-90)" class="yl" textLength="827" lengthAdjust="spacingAndGlyphs">Intensity (a.u.)</text>
<text transform="translate(894.9,1946.9) scale(0.908,1)" class="xl2">2</text>
<text transform="translate(960.4,1946.5) scale(1.219,1)" class="xth">θ</text>
<text transform="translate(1069.7,1953.5) scale(0.786,1)" class="xl">(</text>
<text transform="translate(1104.4,1959.8)" class="xdeg">°</text>
<text transform="translate(1158.6,1953.5) scale(0.786,1)" class="xl">)</text>
<text transform="translate(704.5,468) rotate(-90)" class="hkl" textLength="201" lengthAdjust="spacingAndGlyphs">(111)</text>
<text transform="translate(868.1,241) rotate(-90)" class="hkl" textLength="201" lengthAdjust="spacingAndGlyphs">(200)</text>
<text transform="translate(1407.3,590) rotate(-90)" class="hkl" textLength="201" lengthAdjust="spacingAndGlyphs">(220)</text>
<text x="1617.7" y="631.6" class="lab" fill="#0000ff" textLength="132" lengthAdjust="spacingAndGlyphs">(d)</text>
<text x="1619.5" y="728.4" class="leg" fill="#0000ff" textLength="430" lengthAdjust="spacingAndGlyphs">annealed-500</text><text transform="translate(2051.4,724.6) scale(0.75,1)" class="leg" style="font-size:74px" fill="#0000ff">°</text><text transform="translate(2076.5,728.1) scale(0.945,1)" class="leg" style="font-size:64px" fill="#0000ff">C</text>
<text x="1618.7" y="952" class="lab" fill="#ff0000" textLength="116" lengthAdjust="spacingAndGlyphs">(c)</text>
<text x="1619.5" y="1040.7" class="leg" fill="#ff0000" textLength="430" lengthAdjust="spacingAndGlyphs">annealed-400</text><text transform="translate(2051.4,1036.9) scale(0.75,1)" class="leg" style="font-size:74px" fill="#ff0000">°</text><text transform="translate(2076.5,1040.4) scale(0.945,1)" class="leg" style="font-size:64px" fill="#ff0000">C</text>
<text x="1618.7" y="1211.5" class="lab" fill="#000" textLength="130" lengthAdjust="spacingAndGlyphs">(b)</text>
<text x="1619.5" y="1299" class="leg" fill="#000" textLength="430" lengthAdjust="spacingAndGlyphs">annealed-300</text><text transform="translate(2051.4,1295.2) scale(0.75,1)" class="leg" style="font-size:74px" fill="#000">°</text><text transform="translate(2076.5,1298.7) scale(0.945,1)" class="leg" style="font-size:64px" fill="#000">C</text>
<text x="1618.7" y="1489.8" class="lab" fill="#00cd0d" textLength="125.6" lengthAdjust="spacingAndGlyphs">(a)</text>
<text x="1620" y="1588.4" class="leg" fill="#00cd0d" textLength="407" lengthAdjust="spacingAndGlyphs">as-deposited</text>
</g>
</svg>
</body></html>
